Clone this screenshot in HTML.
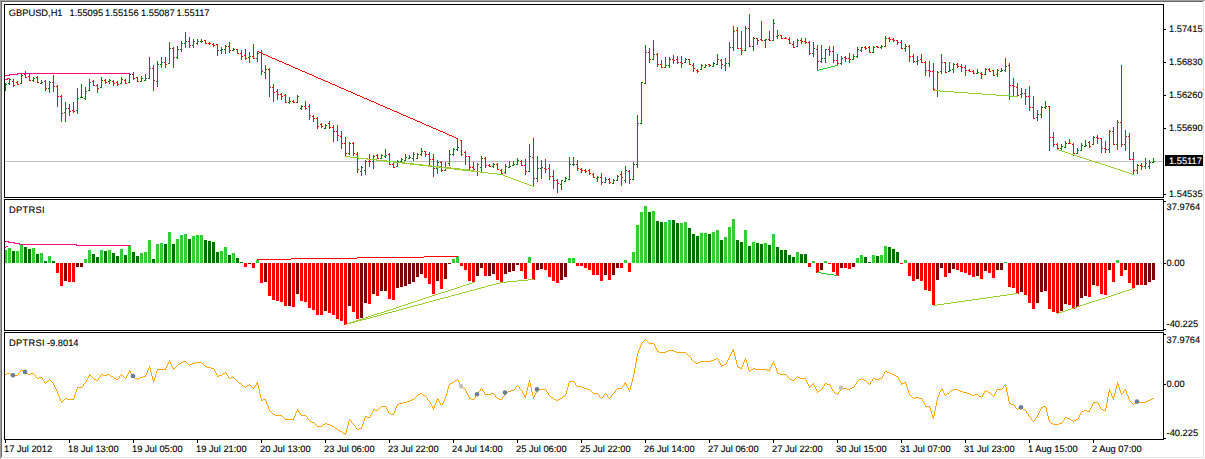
<!DOCTYPE html><html><head><meta charset="utf-8"><style>html,body{margin:0;padding:0;background:#fff;width:1205px;height:459px;overflow:hidden}svg{display:block}text{text-rendering:geometricPrecision;stroke:currentColor;stroke-width:0.12px}</style></head><body><svg width="1205" height="459" viewBox="0 0 1205 459" shape-rendering="crispEdges" font-family="Liberation Sans, sans-serif" font-size="9.3"><rect x="0" y="0" width="1205" height="1" fill="#a0a0a0"/><rect x="0" y="0" width="1" height="459" fill="#a0a0a0"/><rect x="1" y="1" width="1203" height="1" fill="#696969"/><rect x="1" y="1" width="1" height="457" fill="#696969"/><rect x="1" y="457" width="1203" height="1" fill="#e3e3e3"/><rect x="1203" y="1" width="1" height="457" fill="#e3e3e3"/><rect x="4" y="4" width="1160" height="1" fill="#000"/><rect x="4" y="197" width="1160" height="1" fill="#000"/><rect x="4" y="4" width="1" height="194" fill="#000"/><rect x="1163" y="4" width="1" height="194" fill="#000"/><rect x="4" y="199" width="1160" height="1" fill="#000"/><rect x="4" y="330" width="1160" height="1" fill="#000"/><rect x="4" y="199" width="1" height="132" fill="#000"/><rect x="1163" y="199" width="1" height="132" fill="#000"/><rect x="4" y="332" width="1160" height="1" fill="#000"/><rect x="4" y="439" width="1160" height="1" fill="#000"/><rect x="4" y="332" width="1" height="108" fill="#000"/><rect x="1163" y="332" width="1" height="108" fill="#000"/><rect x="5" y="161" width="1158" height="1" fill="#c0c0c0"/><rect x="5" y="83" width="1" height="8" fill="#008000"/><rect x="6" y="84" width="1" height="1" fill="#008000"/><rect x="9" y="78" width="1" height="7" fill="#008000"/><rect x="8" y="83" width="1" height="1" fill="#008000"/><rect x="10" y="79" width="1" height="1" fill="#008000"/><rect x="13" y="79" width="1" height="8" fill="#ff0000"/><rect x="12" y="81" width="1" height="1" fill="#ff0000"/><rect x="14" y="85" width="1" height="1" fill="#ff0000"/><rect x="17" y="81" width="1" height="4" fill="#ff0000"/><rect x="16" y="82" width="1" height="1" fill="#ff0000"/><rect x="18" y="84" width="1" height="1" fill="#ff0000"/><rect x="21" y="74" width="1" height="10" fill="#008000"/><rect x="20" y="83" width="1" height="1" fill="#008000"/><rect x="22" y="75" width="1" height="1" fill="#008000"/><rect x="25" y="71" width="1" height="7" fill="#ff0000"/><rect x="24" y="74" width="1" height="1" fill="#ff0000"/><rect x="26" y="77" width="1" height="1" fill="#ff0000"/><rect x="29" y="74" width="1" height="7" fill="#ff0000"/><rect x="28" y="76" width="1" height="1" fill="#ff0000"/><rect x="30" y="80" width="1" height="1" fill="#ff0000"/><rect x="33" y="77" width="1" height="5" fill="#008000"/><rect x="32" y="80" width="1" height="1" fill="#008000"/><rect x="34" y="78" width="1" height="1" fill="#008000"/><rect x="37" y="76" width="1" height="7" fill="#ff0000"/><rect x="36" y="77" width="1" height="1" fill="#ff0000"/><rect x="38" y="82" width="1" height="1" fill="#ff0000"/><rect x="41" y="80" width="1" height="4" fill="#008000"/><rect x="40" y="83" width="1" height="1" fill="#008000"/><rect x="42" y="82" width="1" height="1" fill="#008000"/><rect x="45" y="80" width="1" height="11" fill="#ff0000"/><rect x="44" y="81" width="1" height="1" fill="#ff0000"/><rect x="46" y="88" width="1" height="1" fill="#ff0000"/><rect x="49" y="81" width="1" height="12" fill="#008000"/><rect x="48" y="88" width="1" height="1" fill="#008000"/><rect x="50" y="82" width="1" height="1" fill="#008000"/><rect x="53" y="75" width="1" height="17" fill="#ff0000"/><rect x="52" y="82" width="1" height="1" fill="#ff0000"/><rect x="54" y="86" width="1" height="1" fill="#ff0000"/><rect x="57" y="85" width="1" height="22" fill="#ff0000"/><rect x="56" y="86" width="1" height="1" fill="#ff0000"/><rect x="58" y="96" width="1" height="1" fill="#ff0000"/><rect x="61" y="95" width="1" height="27" fill="#ff0000"/><rect x="60" y="96" width="1" height="1" fill="#ff0000"/><rect x="62" y="113" width="1" height="1" fill="#ff0000"/><rect x="65" y="102" width="1" height="20" fill="#008000"/><rect x="64" y="112" width="1" height="1" fill="#008000"/><rect x="66" y="108" width="1" height="1" fill="#008000"/><rect x="69" y="104" width="1" height="12" fill="#ff0000"/><rect x="68" y="108" width="1" height="1" fill="#ff0000"/><rect x="70" y="111" width="1" height="1" fill="#ff0000"/><rect x="73" y="102" width="1" height="11" fill="#ff0000"/><rect x="72" y="110" width="1" height="1" fill="#ff0000"/><rect x="74" y="111" width="1" height="1" fill="#ff0000"/><rect x="77" y="88" width="1" height="26" fill="#008000"/><rect x="76" y="110" width="1" height="1" fill="#008000"/><rect x="78" y="98" width="1" height="1" fill="#008000"/><rect x="81" y="84" width="1" height="14" fill="#008000"/><rect x="80" y="97" width="1" height="1" fill="#008000"/><rect x="82" y="97" width="1" height="1" fill="#008000"/><rect x="85" y="87" width="1" height="13" fill="#008000"/><rect x="84" y="98" width="1" height="1" fill="#008000"/><rect x="86" y="91" width="1" height="1" fill="#008000"/><rect x="89" y="79" width="1" height="12" fill="#008000"/><rect x="88" y="90" width="1" height="1" fill="#008000"/><rect x="90" y="82" width="1" height="1" fill="#008000"/><rect x="93" y="80" width="1" height="6" fill="#ff0000"/><rect x="92" y="81" width="1" height="1" fill="#ff0000"/><rect x="94" y="85" width="1" height="1" fill="#ff0000"/><rect x="97" y="84" width="1" height="9" fill="#ff0000"/><rect x="96" y="85" width="1" height="1" fill="#ff0000"/><rect x="98" y="88" width="1" height="1" fill="#ff0000"/><rect x="101" y="77" width="1" height="11" fill="#008000"/><rect x="100" y="87" width="1" height="1" fill="#008000"/><rect x="102" y="80" width="1" height="1" fill="#008000"/><rect x="105" y="79" width="1" height="5" fill="#ff0000"/><rect x="104" y="80" width="1" height="1" fill="#ff0000"/><rect x="106" y="82" width="1" height="1" fill="#ff0000"/><rect x="109" y="79" width="1" height="5" fill="#008000"/><rect x="108" y="81" width="1" height="1" fill="#008000"/><rect x="110" y="80" width="1" height="1" fill="#008000"/><rect x="113" y="80" width="1" height="6" fill="#ff0000"/><rect x="112" y="81" width="1" height="1" fill="#ff0000"/><rect x="114" y="83" width="1" height="1" fill="#ff0000"/><rect x="117" y="81" width="1" height="5" fill="#ff0000"/><rect x="116" y="82" width="1" height="1" fill="#ff0000"/><rect x="118" y="84" width="1" height="1" fill="#ff0000"/><rect x="121" y="77" width="1" height="7" fill="#008000"/><rect x="120" y="83" width="1" height="1" fill="#008000"/><rect x="122" y="79" width="1" height="1" fill="#008000"/><rect x="125" y="79" width="1" height="5" fill="#ff0000"/><rect x="124" y="80" width="1" height="1" fill="#ff0000"/><rect x="126" y="83" width="1" height="1" fill="#ff0000"/><rect x="129" y="73" width="1" height="10" fill="#008000"/><rect x="128" y="82" width="1" height="1" fill="#008000"/><rect x="130" y="74" width="1" height="1" fill="#008000"/><rect x="133" y="72" width="1" height="8" fill="#ff0000"/><rect x="132" y="74" width="1" height="1" fill="#ff0000"/><rect x="134" y="78" width="1" height="1" fill="#ff0000"/><rect x="137" y="77" width="1" height="5" fill="#ff0000"/><rect x="136" y="77" width="1" height="1" fill="#ff0000"/><rect x="138" y="81" width="1" height="1" fill="#ff0000"/><rect x="141" y="76" width="1" height="6" fill="#008000"/><rect x="140" y="81" width="1" height="1" fill="#008000"/><rect x="142" y="78" width="1" height="1" fill="#008000"/><rect x="145" y="74" width="1" height="7" fill="#008000"/><rect x="144" y="80" width="1" height="1" fill="#008000"/><rect x="146" y="78" width="1" height="1" fill="#008000"/><rect x="149" y="57" width="1" height="22" fill="#008000"/><rect x="148" y="78" width="1" height="1" fill="#008000"/><rect x="150" y="68" width="1" height="1" fill="#008000"/><rect x="153" y="65" width="1" height="26" fill="#ff0000"/><rect x="152" y="68" width="1" height="1" fill="#ff0000"/><rect x="154" y="80" width="1" height="1" fill="#ff0000"/><rect x="157" y="61" width="1" height="26" fill="#008000"/><rect x="156" y="81" width="1" height="1" fill="#008000"/><rect x="158" y="64" width="1" height="1" fill="#008000"/><rect x="161" y="57" width="1" height="11" fill="#008000"/><rect x="160" y="64" width="1" height="1" fill="#008000"/><rect x="162" y="62" width="1" height="1" fill="#008000"/><rect x="165" y="57" width="1" height="11" fill="#ff0000"/><rect x="164" y="62" width="1" height="1" fill="#ff0000"/><rect x="166" y="64" width="1" height="1" fill="#ff0000"/><rect x="169" y="42" width="1" height="22" fill="#008000"/><rect x="168" y="63" width="1" height="1" fill="#008000"/><rect x="170" y="48" width="1" height="1" fill="#008000"/><rect x="173" y="47" width="1" height="21" fill="#ff0000"/><rect x="172" y="48" width="1" height="1" fill="#ff0000"/><rect x="174" y="57" width="1" height="1" fill="#ff0000"/><rect x="177" y="46" width="1" height="13" fill="#008000"/><rect x="176" y="57" width="1" height="1" fill="#008000"/><rect x="178" y="49" width="1" height="1" fill="#008000"/><rect x="181" y="41" width="1" height="11" fill="#008000"/><rect x="180" y="49" width="1" height="1" fill="#008000"/><rect x="182" y="43" width="1" height="1" fill="#008000"/><rect x="185" y="32" width="1" height="16" fill="#008000"/><rect x="184" y="43" width="1" height="1" fill="#008000"/><rect x="186" y="41" width="1" height="1" fill="#008000"/><rect x="189" y="37" width="1" height="11" fill="#ff0000"/><rect x="188" y="41" width="1" height="1" fill="#ff0000"/><rect x="190" y="45" width="1" height="1" fill="#ff0000"/><rect x="193" y="39" width="1" height="9" fill="#008000"/><rect x="192" y="45" width="1" height="1" fill="#008000"/><rect x="194" y="41" width="1" height="1" fill="#008000"/><rect x="197" y="39" width="1" height="6" fill="#008000"/><rect x="196" y="43" width="1" height="1" fill="#008000"/><rect x="198" y="41" width="1" height="1" fill="#008000"/><rect x="201" y="39" width="1" height="4" fill="#008000"/><rect x="200" y="41" width="1" height="1" fill="#008000"/><rect x="202" y="41" width="1" height="1" fill="#008000"/><rect x="205" y="40" width="1" height="4" fill="#ff0000"/><rect x="204" y="40" width="1" height="1" fill="#ff0000"/><rect x="206" y="43" width="1" height="1" fill="#ff0000"/><rect x="209" y="42" width="1" height="3" fill="#ff0000"/><rect x="208" y="43" width="1" height="1" fill="#ff0000"/><rect x="210" y="43" width="1" height="1" fill="#ff0000"/><rect x="213" y="43" width="1" height="4" fill="#ff0000"/><rect x="212" y="44" width="1" height="1" fill="#ff0000"/><rect x="214" y="45" width="1" height="1" fill="#ff0000"/><rect x="217" y="44" width="1" height="12" fill="#ff0000"/><rect x="216" y="44" width="1" height="1" fill="#ff0000"/><rect x="218" y="50" width="1" height="1" fill="#ff0000"/><rect x="221" y="47" width="1" height="7" fill="#008000"/><rect x="220" y="50" width="1" height="1" fill="#008000"/><rect x="222" y="49" width="1" height="1" fill="#008000"/><rect x="225" y="45" width="1" height="9" fill="#008000"/><rect x="224" y="49" width="1" height="1" fill="#008000"/><rect x="226" y="46" width="1" height="1" fill="#008000"/><rect x="229" y="42" width="1" height="11" fill="#ff0000"/><rect x="228" y="46" width="1" height="1" fill="#ff0000"/><rect x="230" y="50" width="1" height="1" fill="#ff0000"/><rect x="233" y="48" width="1" height="3" fill="#008000"/><rect x="232" y="50" width="1" height="1" fill="#008000"/><rect x="234" y="49" width="1" height="1" fill="#008000"/><rect x="237" y="49" width="1" height="5" fill="#ff0000"/><rect x="236" y="49" width="1" height="1" fill="#ff0000"/><rect x="238" y="53" width="1" height="1" fill="#ff0000"/><rect x="241" y="50" width="1" height="10" fill="#ff0000"/><rect x="240" y="53" width="1" height="1" fill="#ff0000"/><rect x="242" y="56" width="1" height="1" fill="#ff0000"/><rect x="245" y="49" width="1" height="11" fill="#ff0000"/><rect x="244" y="55" width="1" height="1" fill="#ff0000"/><rect x="246" y="58" width="1" height="1" fill="#ff0000"/><rect x="249" y="52" width="1" height="11" fill="#008000"/><rect x="248" y="57" width="1" height="1" fill="#008000"/><rect x="250" y="56" width="1" height="1" fill="#008000"/><rect x="253" y="44" width="1" height="15" fill="#ff0000"/><rect x="252" y="56" width="1" height="1" fill="#ff0000"/><rect x="254" y="58" width="1" height="1" fill="#ff0000"/><rect x="257" y="51" width="1" height="11" fill="#008000"/><rect x="256" y="58" width="1" height="1" fill="#008000"/><rect x="258" y="53" width="1" height="1" fill="#008000"/><rect x="261" y="50" width="1" height="25" fill="#ff0000"/><rect x="260" y="52" width="1" height="1" fill="#ff0000"/><rect x="262" y="71" width="1" height="1" fill="#ff0000"/><rect x="265" y="65" width="1" height="14" fill="#008000"/><rect x="264" y="72" width="1" height="1" fill="#008000"/><rect x="266" y="69" width="1" height="1" fill="#008000"/><rect x="269" y="68" width="1" height="29" fill="#ff0000"/><rect x="268" y="69" width="1" height="1" fill="#ff0000"/><rect x="270" y="87" width="1" height="1" fill="#ff0000"/><rect x="273" y="84" width="1" height="18" fill="#ff0000"/><rect x="272" y="87" width="1" height="1" fill="#ff0000"/><rect x="274" y="92" width="1" height="1" fill="#ff0000"/><rect x="277" y="89" width="1" height="11" fill="#ff0000"/><rect x="276" y="91" width="1" height="1" fill="#ff0000"/><rect x="278" y="94" width="1" height="1" fill="#ff0000"/><rect x="281" y="93" width="1" height="7" fill="#ff0000"/><rect x="280" y="94" width="1" height="1" fill="#ff0000"/><rect x="282" y="96" width="1" height="1" fill="#ff0000"/><rect x="285" y="94" width="1" height="9" fill="#ff0000"/><rect x="284" y="95" width="1" height="1" fill="#ff0000"/><rect x="286" y="102" width="1" height="1" fill="#ff0000"/><rect x="289" y="97" width="1" height="7" fill="#008000"/><rect x="288" y="102" width="1" height="1" fill="#008000"/><rect x="290" y="101" width="1" height="1" fill="#008000"/><rect x="293" y="100" width="1" height="3" fill="#ff0000"/><rect x="292" y="101" width="1" height="1" fill="#ff0000"/><rect x="294" y="102" width="1" height="1" fill="#ff0000"/><rect x="297" y="95" width="1" height="8" fill="#008000"/><rect x="296" y="102" width="1" height="1" fill="#008000"/><rect x="298" y="96" width="1" height="1" fill="#008000"/><rect x="301" y="105" width="1" height="5" fill="#008000"/><rect x="300" y="108" width="1" height="1" fill="#008000"/><rect x="302" y="106" width="1" height="1" fill="#008000"/><rect x="305" y="101" width="1" height="9" fill="#ff0000"/><rect x="304" y="106" width="1" height="1" fill="#ff0000"/><rect x="306" y="108" width="1" height="1" fill="#ff0000"/><rect x="309" y="104" width="1" height="16" fill="#ff0000"/><rect x="308" y="106" width="1" height="1" fill="#ff0000"/><rect x="310" y="115" width="1" height="1" fill="#ff0000"/><rect x="313" y="115" width="1" height="7" fill="#ff0000"/><rect x="312" y="116" width="1" height="1" fill="#ff0000"/><rect x="314" y="118" width="1" height="1" fill="#ff0000"/><rect x="317" y="117" width="1" height="12" fill="#ff0000"/><rect x="316" y="118" width="1" height="1" fill="#ff0000"/><rect x="318" y="126" width="1" height="1" fill="#ff0000"/><rect x="321" y="123" width="1" height="5" fill="#ff0000"/><rect x="320" y="124" width="1" height="1" fill="#ff0000"/><rect x="322" y="126" width="1" height="1" fill="#ff0000"/><rect x="325" y="124" width="1" height="5" fill="#008000"/><rect x="324" y="128" width="1" height="1" fill="#008000"/><rect x="326" y="125" width="1" height="1" fill="#008000"/><rect x="329" y="121" width="1" height="8" fill="#ff0000"/><rect x="328" y="123" width="1" height="1" fill="#ff0000"/><rect x="330" y="127" width="1" height="1" fill="#ff0000"/><rect x="333" y="125" width="1" height="17" fill="#ff0000"/><rect x="332" y="127" width="1" height="1" fill="#ff0000"/><rect x="334" y="131" width="1" height="1" fill="#ff0000"/><rect x="337" y="125" width="1" height="16" fill="#ff0000"/><rect x="336" y="131" width="1" height="1" fill="#ff0000"/><rect x="338" y="135" width="1" height="1" fill="#ff0000"/><rect x="341" y="131" width="1" height="18" fill="#ff0000"/><rect x="340" y="136" width="1" height="1" fill="#ff0000"/><rect x="342" y="143" width="1" height="1" fill="#ff0000"/><rect x="345" y="137" width="1" height="19" fill="#ff0000"/><rect x="344" y="143" width="1" height="1" fill="#ff0000"/><rect x="346" y="153" width="1" height="1" fill="#ff0000"/><rect x="349" y="142" width="1" height="13" fill="#008000"/><rect x="348" y="153" width="1" height="1" fill="#008000"/><rect x="350" y="143" width="1" height="1" fill="#008000"/><rect x="353" y="142" width="1" height="14" fill="#ff0000"/><rect x="352" y="143" width="1" height="1" fill="#ff0000"/><rect x="354" y="153" width="1" height="1" fill="#ff0000"/><rect x="357" y="152" width="1" height="21" fill="#ff0000"/><rect x="356" y="154" width="1" height="1" fill="#ff0000"/><rect x="358" y="169" width="1" height="1" fill="#ff0000"/><rect x="361" y="166" width="1" height="10" fill="#008000"/><rect x="360" y="171" width="1" height="1" fill="#008000"/><rect x="362" y="167" width="1" height="1" fill="#008000"/><rect x="365" y="160" width="1" height="15" fill="#008000"/><rect x="364" y="170" width="1" height="1" fill="#008000"/><rect x="366" y="161" width="1" height="1" fill="#008000"/><rect x="369" y="154" width="1" height="13" fill="#ff0000"/><rect x="368" y="161" width="1" height="1" fill="#ff0000"/><rect x="370" y="161" width="1" height="1" fill="#ff0000"/><rect x="373" y="155" width="1" height="14" fill="#008000"/><rect x="372" y="161" width="1" height="1" fill="#008000"/><rect x="374" y="156" width="1" height="1" fill="#008000"/><rect x="377" y="154" width="1" height="5" fill="#ff0000"/><rect x="376" y="155" width="1" height="1" fill="#ff0000"/><rect x="378" y="158" width="1" height="1" fill="#ff0000"/><rect x="381" y="154" width="1" height="5" fill="#008000"/><rect x="380" y="158" width="1" height="1" fill="#008000"/><rect x="382" y="155" width="1" height="1" fill="#008000"/><rect x="385" y="149" width="1" height="9" fill="#008000"/><rect x="384" y="156" width="1" height="1" fill="#008000"/><rect x="386" y="155" width="1" height="1" fill="#008000"/><rect x="389" y="153" width="1" height="12" fill="#ff0000"/><rect x="388" y="154" width="1" height="1" fill="#ff0000"/><rect x="390" y="164" width="1" height="1" fill="#ff0000"/><rect x="393" y="163" width="1" height="5" fill="#ff0000"/><rect x="392" y="164" width="1" height="1" fill="#ff0000"/><rect x="394" y="167" width="1" height="1" fill="#ff0000"/><rect x="397" y="160" width="1" height="7" fill="#008000"/><rect x="396" y="166" width="1" height="1" fill="#008000"/><rect x="398" y="161" width="1" height="1" fill="#008000"/><rect x="401" y="158" width="1" height="5" fill="#008000"/><rect x="400" y="161" width="1" height="1" fill="#008000"/><rect x="402" y="159" width="1" height="1" fill="#008000"/><rect x="405" y="154" width="1" height="7" fill="#008000"/><rect x="404" y="160" width="1" height="1" fill="#008000"/><rect x="406" y="157" width="1" height="1" fill="#008000"/><rect x="409" y="155" width="1" height="4" fill="#008000"/><rect x="408" y="158" width="1" height="1" fill="#008000"/><rect x="410" y="157" width="1" height="1" fill="#008000"/><rect x="413" y="152" width="1" height="9" fill="#008000"/><rect x="412" y="158" width="1" height="1" fill="#008000"/><rect x="414" y="154" width="1" height="1" fill="#008000"/><rect x="417" y="153" width="1" height="6" fill="#008000"/><rect x="416" y="158" width="1" height="1" fill="#008000"/><rect x="418" y="154" width="1" height="1" fill="#008000"/><rect x="421" y="148" width="1" height="8" fill="#008000"/><rect x="420" y="154" width="1" height="1" fill="#008000"/><rect x="422" y="151" width="1" height="1" fill="#008000"/><rect x="425" y="151" width="1" height="6" fill="#ff0000"/><rect x="424" y="151" width="1" height="1" fill="#ff0000"/><rect x="426" y="154" width="1" height="1" fill="#ff0000"/><rect x="429" y="152" width="1" height="13" fill="#ff0000"/><rect x="428" y="154" width="1" height="1" fill="#ff0000"/><rect x="430" y="159" width="1" height="1" fill="#ff0000"/><rect x="433" y="154" width="1" height="23" fill="#ff0000"/><rect x="432" y="159" width="1" height="1" fill="#ff0000"/><rect x="434" y="168" width="1" height="1" fill="#ff0000"/><rect x="437" y="160" width="1" height="14" fill="#008000"/><rect x="436" y="168" width="1" height="1" fill="#008000"/><rect x="438" y="162" width="1" height="1" fill="#008000"/><rect x="441" y="161" width="1" height="11" fill="#ff0000"/><rect x="440" y="162" width="1" height="1" fill="#ff0000"/><rect x="442" y="170" width="1" height="1" fill="#ff0000"/><rect x="445" y="162" width="1" height="9" fill="#008000"/><rect x="444" y="170" width="1" height="1" fill="#008000"/><rect x="446" y="167" width="1" height="1" fill="#008000"/><rect x="449" y="150" width="1" height="16" fill="#008000"/><rect x="448" y="163" width="1" height="1" fill="#008000"/><rect x="450" y="154" width="1" height="1" fill="#008000"/><rect x="453" y="148" width="1" height="8" fill="#008000"/><rect x="452" y="154" width="1" height="1" fill="#008000"/><rect x="454" y="149" width="1" height="1" fill="#008000"/><rect x="457" y="138" width="1" height="13" fill="#008000"/><rect x="456" y="149" width="1" height="1" fill="#008000"/><rect x="458" y="147" width="1" height="1" fill="#008000"/><rect x="461" y="140" width="1" height="16" fill="#ff0000"/><rect x="460" y="140" width="1" height="1" fill="#ff0000"/><rect x="462" y="154" width="1" height="1" fill="#ff0000"/><rect x="465" y="151" width="1" height="14" fill="#ff0000"/><rect x="464" y="152" width="1" height="1" fill="#ff0000"/><rect x="466" y="156" width="1" height="1" fill="#ff0000"/><rect x="469" y="156" width="1" height="14" fill="#ff0000"/><rect x="468" y="156" width="1" height="1" fill="#ff0000"/><rect x="470" y="167" width="1" height="1" fill="#ff0000"/><rect x="473" y="162" width="1" height="8" fill="#ff0000"/><rect x="472" y="167" width="1" height="1" fill="#ff0000"/><rect x="474" y="169" width="1" height="1" fill="#ff0000"/><rect x="477" y="163" width="1" height="13" fill="#008000"/><rect x="476" y="171" width="1" height="1" fill="#008000"/><rect x="478" y="164" width="1" height="1" fill="#008000"/><rect x="481" y="156" width="1" height="16" fill="#008000"/><rect x="480" y="167" width="1" height="1" fill="#008000"/><rect x="482" y="158" width="1" height="1" fill="#008000"/><rect x="485" y="157" width="1" height="11" fill="#ff0000"/><rect x="484" y="158" width="1" height="1" fill="#ff0000"/><rect x="486" y="165" width="1" height="1" fill="#ff0000"/><rect x="489" y="164" width="1" height="3" fill="#ff0000"/><rect x="488" y="165" width="1" height="1" fill="#ff0000"/><rect x="490" y="166" width="1" height="1" fill="#ff0000"/><rect x="493" y="163" width="1" height="5" fill="#008000"/><rect x="492" y="166" width="1" height="1" fill="#008000"/><rect x="494" y="164" width="1" height="1" fill="#008000"/><rect x="497" y="163" width="1" height="7" fill="#ff0000"/><rect x="496" y="164" width="1" height="1" fill="#ff0000"/><rect x="498" y="169" width="1" height="1" fill="#ff0000"/><rect x="501" y="169" width="1" height="5" fill="#ff0000"/><rect x="500" y="170" width="1" height="1" fill="#ff0000"/><rect x="502" y="173" width="1" height="1" fill="#ff0000"/><rect x="505" y="164" width="1" height="10" fill="#008000"/><rect x="504" y="172" width="1" height="1" fill="#008000"/><rect x="506" y="166" width="1" height="1" fill="#008000"/><rect x="509" y="161" width="1" height="7" fill="#008000"/><rect x="508" y="167" width="1" height="1" fill="#008000"/><rect x="510" y="166" width="1" height="1" fill="#008000"/><rect x="513" y="161" width="1" height="5" fill="#008000"/><rect x="512" y="165" width="1" height="1" fill="#008000"/><rect x="514" y="164" width="1" height="1" fill="#008000"/><rect x="517" y="158" width="1" height="7" fill="#008000"/><rect x="516" y="164" width="1" height="1" fill="#008000"/><rect x="518" y="160" width="1" height="1" fill="#008000"/><rect x="521" y="160" width="1" height="6" fill="#ff0000"/><rect x="520" y="161" width="1" height="1" fill="#ff0000"/><rect x="522" y="165" width="1" height="1" fill="#ff0000"/><rect x="525" y="159" width="1" height="16" fill="#ff0000"/><rect x="524" y="165" width="1" height="1" fill="#ff0000"/><rect x="526" y="171" width="1" height="1" fill="#ff0000"/><rect x="529" y="144" width="1" height="28" fill="#008000"/><rect x="528" y="171" width="1" height="1" fill="#008000"/><rect x="530" y="156" width="1" height="1" fill="#008000"/><rect x="533" y="138" width="1" height="49" fill="#ff0000"/><rect x="532" y="157" width="1" height="1" fill="#ff0000"/><rect x="534" y="178" width="1" height="1" fill="#ff0000"/><rect x="537" y="156" width="1" height="26" fill="#008000"/><rect x="536" y="178" width="1" height="1" fill="#008000"/><rect x="538" y="168" width="1" height="1" fill="#008000"/><rect x="541" y="160" width="1" height="19" fill="#008000"/><rect x="540" y="168" width="1" height="1" fill="#008000"/><rect x="542" y="167" width="1" height="1" fill="#008000"/><rect x="545" y="159" width="1" height="14" fill="#ff0000"/><rect x="544" y="168" width="1" height="1" fill="#ff0000"/><rect x="546" y="169" width="1" height="1" fill="#ff0000"/><rect x="549" y="164" width="1" height="16" fill="#ff0000"/><rect x="548" y="168" width="1" height="1" fill="#ff0000"/><rect x="550" y="176" width="1" height="1" fill="#ff0000"/><rect x="553" y="170" width="1" height="19" fill="#ff0000"/><rect x="552" y="176" width="1" height="1" fill="#ff0000"/><rect x="554" y="180" width="1" height="1" fill="#ff0000"/><rect x="557" y="179" width="1" height="14" fill="#ff0000"/><rect x="556" y="180" width="1" height="1" fill="#ff0000"/><rect x="558" y="183" width="1" height="1" fill="#ff0000"/><rect x="561" y="180" width="1" height="10" fill="#008000"/><rect x="560" y="184" width="1" height="1" fill="#008000"/><rect x="562" y="180" width="1" height="1" fill="#008000"/><rect x="565" y="177" width="1" height="5" fill="#008000"/><rect x="564" y="181" width="1" height="1" fill="#008000"/><rect x="566" y="178" width="1" height="1" fill="#008000"/><rect x="569" y="157" width="1" height="23" fill="#008000"/><rect x="568" y="179" width="1" height="1" fill="#008000"/><rect x="570" y="164" width="1" height="1" fill="#008000"/><rect x="573" y="157" width="1" height="9" fill="#008000"/><rect x="572" y="164" width="1" height="1" fill="#008000"/><rect x="574" y="164" width="1" height="1" fill="#008000"/><rect x="577" y="160" width="1" height="11" fill="#ff0000"/><rect x="576" y="164" width="1" height="1" fill="#ff0000"/><rect x="578" y="168" width="1" height="1" fill="#ff0000"/><rect x="581" y="168" width="1" height="5" fill="#ff0000"/><rect x="580" y="169" width="1" height="1" fill="#ff0000"/><rect x="582" y="170" width="1" height="1" fill="#ff0000"/><rect x="585" y="169" width="1" height="4" fill="#ff0000"/><rect x="584" y="170" width="1" height="1" fill="#ff0000"/><rect x="586" y="171" width="1" height="1" fill="#ff0000"/><rect x="589" y="169" width="1" height="6" fill="#ff0000"/><rect x="588" y="170" width="1" height="1" fill="#ff0000"/><rect x="590" y="173" width="1" height="1" fill="#ff0000"/><rect x="593" y="173" width="1" height="5" fill="#ff0000"/><rect x="592" y="174" width="1" height="1" fill="#ff0000"/><rect x="594" y="177" width="1" height="1" fill="#ff0000"/><rect x="597" y="176" width="1" height="6" fill="#008000"/><rect x="596" y="178" width="1" height="1" fill="#008000"/><rect x="598" y="177" width="1" height="1" fill="#008000"/><rect x="601" y="173" width="1" height="12" fill="#ff0000"/><rect x="600" y="177" width="1" height="1" fill="#ff0000"/><rect x="602" y="182" width="1" height="1" fill="#ff0000"/><rect x="605" y="177" width="1" height="6" fill="#008000"/><rect x="604" y="182" width="1" height="1" fill="#008000"/><rect x="606" y="179" width="1" height="1" fill="#008000"/><rect x="609" y="178" width="1" height="6" fill="#ff0000"/><rect x="608" y="179" width="1" height="1" fill="#ff0000"/><rect x="610" y="182" width="1" height="1" fill="#ff0000"/><rect x="613" y="179" width="1" height="5" fill="#008000"/><rect x="612" y="183" width="1" height="1" fill="#008000"/><rect x="614" y="180" width="1" height="1" fill="#008000"/><rect x="617" y="175" width="1" height="6" fill="#008000"/><rect x="616" y="180" width="1" height="1" fill="#008000"/><rect x="618" y="176" width="1" height="1" fill="#008000"/><rect x="621" y="171" width="1" height="15" fill="#ff0000"/><rect x="620" y="174" width="1" height="1" fill="#ff0000"/><rect x="622" y="177" width="1" height="1" fill="#ff0000"/><rect x="625" y="166" width="1" height="17" fill="#008000"/><rect x="624" y="180" width="1" height="1" fill="#008000"/><rect x="626" y="170" width="1" height="1" fill="#008000"/><rect x="629" y="170" width="1" height="14" fill="#ff0000"/><rect x="628" y="171" width="1" height="1" fill="#ff0000"/><rect x="630" y="179" width="1" height="1" fill="#ff0000"/><rect x="633" y="162" width="1" height="18" fill="#008000"/><rect x="632" y="179" width="1" height="1" fill="#008000"/><rect x="634" y="164" width="1" height="1" fill="#008000"/><rect x="637" y="115" width="1" height="53" fill="#008000"/><rect x="636" y="164" width="1" height="1" fill="#008000"/><rect x="638" y="123" width="1" height="1" fill="#008000"/><rect x="641" y="82" width="1" height="42" fill="#008000"/><rect x="640" y="123" width="1" height="1" fill="#008000"/><rect x="642" y="82" width="1" height="1" fill="#008000"/><rect x="645" y="45" width="1" height="39" fill="#008000"/><rect x="644" y="83" width="1" height="1" fill="#008000"/><rect x="646" y="52" width="1" height="1" fill="#008000"/><rect x="649" y="48" width="1" height="15" fill="#ff0000"/><rect x="648" y="52" width="1" height="1" fill="#ff0000"/><rect x="650" y="59" width="1" height="1" fill="#ff0000"/><rect x="653" y="40" width="1" height="20" fill="#008000"/><rect x="652" y="59" width="1" height="1" fill="#008000"/><rect x="654" y="54" width="1" height="1" fill="#008000"/><rect x="657" y="53" width="1" height="14" fill="#ff0000"/><rect x="656" y="54" width="1" height="1" fill="#ff0000"/><rect x="658" y="64" width="1" height="1" fill="#ff0000"/><rect x="661" y="60" width="1" height="8" fill="#ff0000"/><rect x="660" y="64" width="1" height="1" fill="#ff0000"/><rect x="662" y="67" width="1" height="1" fill="#ff0000"/><rect x="665" y="57" width="1" height="11" fill="#008000"/><rect x="664" y="67" width="1" height="1" fill="#008000"/><rect x="666" y="65" width="1" height="1" fill="#008000"/><rect x="669" y="57" width="1" height="11" fill="#008000"/><rect x="668" y="65" width="1" height="1" fill="#008000"/><rect x="670" y="59" width="1" height="1" fill="#008000"/><rect x="673" y="55" width="1" height="9" fill="#ff0000"/><rect x="672" y="59" width="1" height="1" fill="#ff0000"/><rect x="674" y="60" width="1" height="1" fill="#ff0000"/><rect x="677" y="56" width="1" height="8" fill="#ff0000"/><rect x="676" y="59" width="1" height="1" fill="#ff0000"/><rect x="678" y="62" width="1" height="1" fill="#ff0000"/><rect x="681" y="56" width="1" height="12" fill="#ff0000"/><rect x="680" y="62" width="1" height="1" fill="#ff0000"/><rect x="682" y="63" width="1" height="1" fill="#ff0000"/><rect x="685" y="58" width="1" height="5" fill="#008000"/><rect x="684" y="62" width="1" height="1" fill="#008000"/><rect x="686" y="59" width="1" height="1" fill="#008000"/><rect x="689" y="59" width="1" height="6" fill="#ff0000"/><rect x="688" y="59" width="1" height="1" fill="#ff0000"/><rect x="690" y="64" width="1" height="1" fill="#ff0000"/><rect x="693" y="63" width="1" height="9" fill="#ff0000"/><rect x="692" y="65" width="1" height="1" fill="#ff0000"/><rect x="694" y="68" width="1" height="1" fill="#ff0000"/><rect x="697" y="69" width="1" height="4" fill="#ff0000"/><rect x="696" y="70" width="1" height="1" fill="#ff0000"/><rect x="698" y="71" width="1" height="1" fill="#ff0000"/><rect x="701" y="64" width="1" height="6" fill="#008000"/><rect x="700" y="69" width="1" height="1" fill="#008000"/><rect x="702" y="65" width="1" height="1" fill="#008000"/><rect x="705" y="64" width="1" height="4" fill="#008000"/><rect x="704" y="67" width="1" height="1" fill="#008000"/><rect x="706" y="65" width="1" height="1" fill="#008000"/><rect x="709" y="64" width="1" height="3" fill="#ff0000"/><rect x="708" y="64" width="1" height="1" fill="#ff0000"/><rect x="710" y="65" width="1" height="1" fill="#ff0000"/><rect x="713" y="62" width="1" height="5" fill="#008000"/><rect x="712" y="66" width="1" height="1" fill="#008000"/><rect x="714" y="63" width="1" height="1" fill="#008000"/><rect x="717" y="54" width="1" height="11" fill="#008000"/><rect x="716" y="64" width="1" height="1" fill="#008000"/><rect x="718" y="59" width="1" height="1" fill="#008000"/><rect x="721" y="59" width="1" height="10" fill="#ff0000"/><rect x="720" y="60" width="1" height="1" fill="#ff0000"/><rect x="722" y="64" width="1" height="1" fill="#ff0000"/><rect x="725" y="58" width="1" height="13" fill="#008000"/><rect x="724" y="65" width="1" height="1" fill="#008000"/><rect x="726" y="63" width="1" height="1" fill="#008000"/><rect x="729" y="42" width="1" height="25" fill="#008000"/><rect x="728" y="63" width="1" height="1" fill="#008000"/><rect x="730" y="47" width="1" height="1" fill="#008000"/><rect x="733" y="26" width="1" height="25" fill="#008000"/><rect x="732" y="47" width="1" height="1" fill="#008000"/><rect x="734" y="31" width="1" height="1" fill="#008000"/><rect x="737" y="27" width="1" height="22" fill="#ff0000"/><rect x="736" y="30" width="1" height="1" fill="#ff0000"/><rect x="738" y="48" width="1" height="1" fill="#ff0000"/><rect x="741" y="31" width="1" height="24" fill="#ff0000"/><rect x="740" y="48" width="1" height="1" fill="#ff0000"/><rect x="742" y="50" width="1" height="1" fill="#ff0000"/><rect x="745" y="26" width="1" height="25" fill="#008000"/><rect x="744" y="50" width="1" height="1" fill="#008000"/><rect x="746" y="28" width="1" height="1" fill="#008000"/><rect x="749" y="14" width="1" height="33" fill="#ff0000"/><rect x="748" y="28" width="1" height="1" fill="#ff0000"/><rect x="750" y="46" width="1" height="1" fill="#ff0000"/><rect x="753" y="37" width="1" height="14" fill="#008000"/><rect x="752" y="46" width="1" height="1" fill="#008000"/><rect x="754" y="38" width="1" height="1" fill="#008000"/><rect x="757" y="38" width="1" height="7" fill="#ff0000"/><rect x="756" y="38" width="1" height="1" fill="#ff0000"/><rect x="758" y="40" width="1" height="1" fill="#ff0000"/><rect x="761" y="21" width="1" height="20" fill="#ff0000"/><rect x="760" y="39" width="1" height="1" fill="#ff0000"/><rect x="762" y="40" width="1" height="1" fill="#ff0000"/><rect x="765" y="39" width="1" height="9" fill="#008000"/><rect x="764" y="40" width="1" height="1" fill="#008000"/><rect x="766" y="39" width="1" height="1" fill="#008000"/><rect x="769" y="31" width="1" height="10" fill="#ff0000"/><rect x="768" y="39" width="1" height="1" fill="#ff0000"/><rect x="770" y="40" width="1" height="1" fill="#ff0000"/><rect x="773" y="19" width="1" height="22" fill="#008000"/><rect x="772" y="40" width="1" height="1" fill="#008000"/><rect x="774" y="23" width="1" height="1" fill="#008000"/><rect x="777" y="30" width="1" height="9" fill="#008000"/><rect x="776" y="36" width="1" height="1" fill="#008000"/><rect x="778" y="35" width="1" height="1" fill="#008000"/><rect x="781" y="35" width="1" height="4" fill="#ff0000"/><rect x="780" y="35" width="1" height="1" fill="#ff0000"/><rect x="782" y="38" width="1" height="1" fill="#ff0000"/><rect x="785" y="37" width="1" height="2" fill="#ff0000"/><rect x="784" y="38" width="1" height="1" fill="#ff0000"/><rect x="786" y="38" width="1" height="1" fill="#ff0000"/><rect x="789" y="37" width="1" height="7" fill="#ff0000"/><rect x="788" y="39" width="1" height="1" fill="#ff0000"/><rect x="790" y="43" width="1" height="1" fill="#ff0000"/><rect x="793" y="41" width="1" height="7" fill="#ff0000"/><rect x="792" y="44" width="1" height="1" fill="#ff0000"/><rect x="794" y="47" width="1" height="1" fill="#ff0000"/><rect x="797" y="39" width="1" height="8" fill="#008000"/><rect x="796" y="46" width="1" height="1" fill="#008000"/><rect x="798" y="40" width="1" height="1" fill="#008000"/><rect x="801" y="38" width="1" height="6" fill="#ff0000"/><rect x="800" y="40" width="1" height="1" fill="#ff0000"/><rect x="802" y="41" width="1" height="1" fill="#ff0000"/><rect x="805" y="38" width="1" height="6" fill="#ff0000"/><rect x="804" y="41" width="1" height="1" fill="#ff0000"/><rect x="806" y="42" width="1" height="1" fill="#ff0000"/><rect x="809" y="41" width="1" height="14" fill="#ff0000"/><rect x="808" y="42" width="1" height="1" fill="#ff0000"/><rect x="810" y="53" width="1" height="1" fill="#ff0000"/><rect x="813" y="42" width="1" height="15" fill="#008000"/><rect x="812" y="53" width="1" height="1" fill="#008000"/><rect x="814" y="48" width="1" height="1" fill="#008000"/><rect x="817" y="45" width="1" height="25" fill="#ff0000"/><rect x="816" y="49" width="1" height="1" fill="#ff0000"/><rect x="818" y="61" width="1" height="1" fill="#ff0000"/><rect x="821" y="45" width="1" height="18" fill="#008000"/><rect x="820" y="61" width="1" height="1" fill="#008000"/><rect x="822" y="58" width="1" height="1" fill="#008000"/><rect x="825" y="49" width="1" height="14" fill="#008000"/><rect x="824" y="58" width="1" height="1" fill="#008000"/><rect x="826" y="49" width="1" height="1" fill="#008000"/><rect x="829" y="46" width="1" height="10" fill="#ff0000"/><rect x="828" y="49" width="1" height="1" fill="#ff0000"/><rect x="830" y="51" width="1" height="1" fill="#ff0000"/><rect x="833" y="46" width="1" height="17" fill="#ff0000"/><rect x="832" y="51" width="1" height="1" fill="#ff0000"/><rect x="834" y="60" width="1" height="1" fill="#ff0000"/><rect x="837" y="54" width="1" height="11" fill="#ff0000"/><rect x="836" y="60" width="1" height="1" fill="#ff0000"/><rect x="838" y="63" width="1" height="1" fill="#ff0000"/><rect x="841" y="56" width="1" height="9" fill="#008000"/><rect x="840" y="63" width="1" height="1" fill="#008000"/><rect x="842" y="58" width="1" height="1" fill="#008000"/><rect x="845" y="56" width="1" height="6" fill="#ff0000"/><rect x="844" y="57" width="1" height="1" fill="#ff0000"/><rect x="846" y="58" width="1" height="1" fill="#ff0000"/><rect x="849" y="53" width="1" height="10" fill="#ff0000"/><rect x="848" y="58" width="1" height="1" fill="#ff0000"/><rect x="850" y="59" width="1" height="1" fill="#ff0000"/><rect x="853" y="54" width="1" height="6" fill="#008000"/><rect x="852" y="59" width="1" height="1" fill="#008000"/><rect x="854" y="56" width="1" height="1" fill="#008000"/><rect x="857" y="47" width="1" height="11" fill="#008000"/><rect x="856" y="56" width="1" height="1" fill="#008000"/><rect x="858" y="49" width="1" height="1" fill="#008000"/><rect x="861" y="47" width="1" height="5" fill="#008000"/><rect x="860" y="50" width="1" height="1" fill="#008000"/><rect x="862" y="47" width="1" height="1" fill="#008000"/><rect x="865" y="46" width="1" height="4" fill="#ff0000"/><rect x="864" y="47" width="1" height="1" fill="#ff0000"/><rect x="866" y="48" width="1" height="1" fill="#ff0000"/><rect x="869" y="46" width="1" height="7" fill="#ff0000"/><rect x="868" y="47" width="1" height="1" fill="#ff0000"/><rect x="870" y="52" width="1" height="1" fill="#ff0000"/><rect x="873" y="46" width="1" height="7" fill="#008000"/><rect x="872" y="52" width="1" height="1" fill="#008000"/><rect x="874" y="47" width="1" height="1" fill="#008000"/><rect x="877" y="46" width="1" height="2" fill="#ff0000"/><rect x="876" y="46" width="1" height="1" fill="#ff0000"/><rect x="878" y="47" width="1" height="1" fill="#ff0000"/><rect x="881" y="45" width="1" height="4" fill="#008000"/><rect x="880" y="47" width="1" height="1" fill="#008000"/><rect x="882" y="46" width="1" height="1" fill="#008000"/><rect x="885" y="36" width="1" height="11" fill="#008000"/><rect x="884" y="46" width="1" height="1" fill="#008000"/><rect x="886" y="38" width="1" height="1" fill="#008000"/><rect x="889" y="37" width="1" height="5" fill="#ff0000"/><rect x="888" y="38" width="1" height="1" fill="#ff0000"/><rect x="890" y="39" width="1" height="1" fill="#ff0000"/><rect x="893" y="38" width="1" height="4" fill="#ff0000"/><rect x="892" y="39" width="1" height="1" fill="#ff0000"/><rect x="894" y="40" width="1" height="1" fill="#ff0000"/><rect x="897" y="40" width="1" height="5" fill="#ff0000"/><rect x="896" y="40" width="1" height="1" fill="#ff0000"/><rect x="898" y="42" width="1" height="1" fill="#ff0000"/><rect x="901" y="40" width="1" height="9" fill="#ff0000"/><rect x="900" y="42" width="1" height="1" fill="#ff0000"/><rect x="902" y="48" width="1" height="1" fill="#ff0000"/><rect x="905" y="44" width="1" height="8" fill="#008000"/><rect x="904" y="48" width="1" height="1" fill="#008000"/><rect x="906" y="46" width="1" height="1" fill="#008000"/><rect x="909" y="45" width="1" height="17" fill="#ff0000"/><rect x="908" y="46" width="1" height="1" fill="#ff0000"/><rect x="910" y="56" width="1" height="1" fill="#ff0000"/><rect x="913" y="54" width="1" height="9" fill="#ff0000"/><rect x="912" y="56" width="1" height="1" fill="#ff0000"/><rect x="914" y="61" width="1" height="1" fill="#ff0000"/><rect x="917" y="56" width="1" height="9" fill="#008000"/><rect x="916" y="61" width="1" height="1" fill="#008000"/><rect x="918" y="60" width="1" height="1" fill="#008000"/><rect x="921" y="54" width="1" height="9" fill="#ff0000"/><rect x="920" y="59" width="1" height="1" fill="#ff0000"/><rect x="922" y="62" width="1" height="1" fill="#ff0000"/><rect x="925" y="61" width="1" height="15" fill="#ff0000"/><rect x="924" y="62" width="1" height="1" fill="#ff0000"/><rect x="926" y="70" width="1" height="1" fill="#ff0000"/><rect x="929" y="61" width="1" height="16" fill="#ff0000"/><rect x="928" y="70" width="1" height="1" fill="#ff0000"/><rect x="930" y="71" width="1" height="1" fill="#ff0000"/><rect x="933" y="63" width="1" height="27" fill="#ff0000"/><rect x="932" y="71" width="1" height="1" fill="#ff0000"/><rect x="934" y="89" width="1" height="1" fill="#ff0000"/><rect x="937" y="71" width="1" height="26" fill="#008000"/><rect x="936" y="90" width="1" height="1" fill="#008000"/><rect x="938" y="72" width="1" height="1" fill="#008000"/><rect x="941" y="54" width="1" height="20" fill="#008000"/><rect x="940" y="71" width="1" height="1" fill="#008000"/><rect x="942" y="62" width="1" height="1" fill="#008000"/><rect x="945" y="62" width="1" height="11" fill="#ff0000"/><rect x="944" y="62" width="1" height="1" fill="#ff0000"/><rect x="946" y="72" width="1" height="1" fill="#ff0000"/><rect x="949" y="62" width="1" height="10" fill="#008000"/><rect x="948" y="71" width="1" height="1" fill="#008000"/><rect x="950" y="70" width="1" height="1" fill="#008000"/><rect x="953" y="63" width="1" height="10" fill="#008000"/><rect x="952" y="69" width="1" height="1" fill="#008000"/><rect x="954" y="64" width="1" height="1" fill="#008000"/><rect x="957" y="63" width="1" height="5" fill="#ff0000"/><rect x="956" y="64" width="1" height="1" fill="#ff0000"/><rect x="958" y="66" width="1" height="1" fill="#ff0000"/><rect x="961" y="64" width="1" height="8" fill="#ff0000"/><rect x="960" y="66" width="1" height="1" fill="#ff0000"/><rect x="962" y="67" width="1" height="1" fill="#ff0000"/><rect x="965" y="65" width="1" height="11" fill="#ff0000"/><rect x="964" y="67" width="1" height="1" fill="#ff0000"/><rect x="966" y="70" width="1" height="1" fill="#ff0000"/><rect x="969" y="69" width="1" height="3" fill="#ff0000"/><rect x="968" y="70" width="1" height="1" fill="#ff0000"/><rect x="970" y="71" width="1" height="1" fill="#ff0000"/><rect x="973" y="70" width="1" height="4" fill="#ff0000"/><rect x="972" y="71" width="1" height="1" fill="#ff0000"/><rect x="974" y="73" width="1" height="1" fill="#ff0000"/><rect x="977" y="69" width="1" height="5" fill="#008000"/><rect x="976" y="73" width="1" height="1" fill="#008000"/><rect x="978" y="72" width="1" height="1" fill="#008000"/><rect x="981" y="72" width="1" height="7" fill="#ff0000"/><rect x="980" y="73" width="1" height="1" fill="#ff0000"/><rect x="982" y="74" width="1" height="1" fill="#ff0000"/><rect x="985" y="68" width="1" height="7" fill="#008000"/><rect x="984" y="74" width="1" height="1" fill="#008000"/><rect x="986" y="69" width="1" height="1" fill="#008000"/><rect x="989" y="68" width="1" height="4" fill="#ff0000"/><rect x="988" y="69" width="1" height="1" fill="#ff0000"/><rect x="990" y="71" width="1" height="1" fill="#ff0000"/><rect x="993" y="70" width="1" height="6" fill="#ff0000"/><rect x="992" y="70" width="1" height="1" fill="#ff0000"/><rect x="994" y="75" width="1" height="1" fill="#ff0000"/><rect x="997" y="69" width="1" height="8" fill="#008000"/><rect x="996" y="74" width="1" height="1" fill="#008000"/><rect x="998" y="70" width="1" height="1" fill="#008000"/><rect x="1001" y="68" width="1" height="4" fill="#008000"/><rect x="1000" y="71" width="1" height="1" fill="#008000"/><rect x="1002" y="70" width="1" height="1" fill="#008000"/><rect x="1005" y="58" width="1" height="14" fill="#008000"/><rect x="1004" y="70" width="1" height="1" fill="#008000"/><rect x="1006" y="66" width="1" height="1" fill="#008000"/><rect x="1009" y="63" width="1" height="37" fill="#ff0000"/><rect x="1008" y="65" width="1" height="1" fill="#ff0000"/><rect x="1010" y="85" width="1" height="1" fill="#ff0000"/><rect x="1013" y="78" width="1" height="18" fill="#ff0000"/><rect x="1012" y="85" width="1" height="1" fill="#ff0000"/><rect x="1014" y="86" width="1" height="1" fill="#ff0000"/><rect x="1017" y="83" width="1" height="13" fill="#ff0000"/><rect x="1016" y="87" width="1" height="1" fill="#ff0000"/><rect x="1018" y="95" width="1" height="1" fill="#ff0000"/><rect x="1021" y="88" width="1" height="10" fill="#008000"/><rect x="1020" y="94" width="1" height="1" fill="#008000"/><rect x="1022" y="93" width="1" height="1" fill="#008000"/><rect x="1025" y="89" width="1" height="16" fill="#ff0000"/><rect x="1024" y="93" width="1" height="1" fill="#ff0000"/><rect x="1026" y="96" width="1" height="1" fill="#ff0000"/><rect x="1029" y="86" width="1" height="25" fill="#ff0000"/><rect x="1028" y="96" width="1" height="1" fill="#ff0000"/><rect x="1030" y="107" width="1" height="1" fill="#ff0000"/><rect x="1033" y="96" width="1" height="23" fill="#ff0000"/><rect x="1032" y="107" width="1" height="1" fill="#ff0000"/><rect x="1034" y="118" width="1" height="1" fill="#ff0000"/><rect x="1037" y="110" width="1" height="11" fill="#008000"/><rect x="1036" y="117" width="1" height="1" fill="#008000"/><rect x="1038" y="114" width="1" height="1" fill="#008000"/><rect x="1041" y="106" width="1" height="12" fill="#008000"/><rect x="1040" y="114" width="1" height="1" fill="#008000"/><rect x="1042" y="107" width="1" height="1" fill="#008000"/><rect x="1045" y="101" width="1" height="8" fill="#008000"/><rect x="1044" y="107" width="1" height="1" fill="#008000"/><rect x="1046" y="106" width="1" height="1" fill="#008000"/><rect x="1049" y="106" width="1" height="45" fill="#ff0000"/><rect x="1048" y="106" width="1" height="1" fill="#ff0000"/><rect x="1050" y="137" width="1" height="1" fill="#ff0000"/><rect x="1053" y="132" width="1" height="15" fill="#ff0000"/><rect x="1052" y="137" width="1" height="1" fill="#ff0000"/><rect x="1054" y="144" width="1" height="1" fill="#ff0000"/><rect x="1057" y="143" width="1" height="6" fill="#ff0000"/><rect x="1056" y="144" width="1" height="1" fill="#ff0000"/><rect x="1058" y="148" width="1" height="1" fill="#ff0000"/><rect x="1061" y="144" width="1" height="6" fill="#008000"/><rect x="1060" y="148" width="1" height="1" fill="#008000"/><rect x="1062" y="146" width="1" height="1" fill="#008000"/><rect x="1065" y="141" width="1" height="7" fill="#008000"/><rect x="1064" y="147" width="1" height="1" fill="#008000"/><rect x="1066" y="143" width="1" height="1" fill="#008000"/><rect x="1069" y="139" width="1" height="5" fill="#ff0000"/><rect x="1068" y="143" width="1" height="1" fill="#ff0000"/><rect x="1070" y="143" width="1" height="1" fill="#ff0000"/><rect x="1073" y="143" width="1" height="13" fill="#ff0000"/><rect x="1072" y="144" width="1" height="1" fill="#ff0000"/><rect x="1074" y="153" width="1" height="1" fill="#ff0000"/><rect x="1077" y="148" width="1" height="6" fill="#008000"/><rect x="1076" y="153" width="1" height="1" fill="#008000"/><rect x="1078" y="150" width="1" height="1" fill="#008000"/><rect x="1081" y="143" width="1" height="8" fill="#008000"/><rect x="1080" y="150" width="1" height="1" fill="#008000"/><rect x="1082" y="145" width="1" height="1" fill="#008000"/><rect x="1085" y="140" width="1" height="7" fill="#008000"/><rect x="1084" y="146" width="1" height="1" fill="#008000"/><rect x="1086" y="145" width="1" height="1" fill="#008000"/><rect x="1089" y="141" width="1" height="7" fill="#ff0000"/><rect x="1088" y="142" width="1" height="1" fill="#ff0000"/><rect x="1090" y="146" width="1" height="1" fill="#ff0000"/><rect x="1093" y="136" width="1" height="9" fill="#008000"/><rect x="1092" y="144" width="1" height="1" fill="#008000"/><rect x="1094" y="137" width="1" height="1" fill="#008000"/><rect x="1097" y="135" width="1" height="9" fill="#ff0000"/><rect x="1096" y="137" width="1" height="1" fill="#ff0000"/><rect x="1098" y="138" width="1" height="1" fill="#ff0000"/><rect x="1101" y="138" width="1" height="15" fill="#ff0000"/><rect x="1100" y="138" width="1" height="1" fill="#ff0000"/><rect x="1102" y="148" width="1" height="1" fill="#ff0000"/><rect x="1105" y="141" width="1" height="12" fill="#ff0000"/><rect x="1104" y="148" width="1" height="1" fill="#ff0000"/><rect x="1106" y="149" width="1" height="1" fill="#ff0000"/><rect x="1109" y="130" width="1" height="23" fill="#008000"/><rect x="1108" y="149" width="1" height="1" fill="#008000"/><rect x="1110" y="131" width="1" height="1" fill="#008000"/><rect x="1113" y="127" width="1" height="18" fill="#ff0000"/><rect x="1112" y="131" width="1" height="1" fill="#ff0000"/><rect x="1114" y="144" width="1" height="1" fill="#ff0000"/><rect x="1117" y="120" width="1" height="30" fill="#008000"/><rect x="1116" y="144" width="1" height="1" fill="#008000"/><rect x="1118" y="122" width="1" height="1" fill="#008000"/><rect x="1121" y="65" width="1" height="82" fill="#ff0000"/><rect x="1120" y="122" width="1" height="1" fill="#ff0000"/><rect x="1122" y="144" width="1" height="1" fill="#ff0000"/><rect x="1125" y="130" width="1" height="21" fill="#008000"/><rect x="1124" y="144" width="1" height="1" fill="#008000"/><rect x="1126" y="136" width="1" height="1" fill="#008000"/><rect x="1129" y="133" width="1" height="27" fill="#ff0000"/><rect x="1128" y="136" width="1" height="1" fill="#ff0000"/><rect x="1130" y="159" width="1" height="1" fill="#ff0000"/><rect x="1133" y="152" width="1" height="22" fill="#ff0000"/><rect x="1132" y="159" width="1" height="1" fill="#ff0000"/><rect x="1134" y="170" width="1" height="1" fill="#ff0000"/><rect x="1137" y="164" width="1" height="10" fill="#008000"/><rect x="1136" y="170" width="1" height="1" fill="#008000"/><rect x="1138" y="165" width="1" height="1" fill="#008000"/><rect x="1141" y="163" width="1" height="7" fill="#ff0000"/><rect x="1140" y="165" width="1" height="1" fill="#ff0000"/><rect x="1142" y="166" width="1" height="1" fill="#ff0000"/><rect x="1145" y="158" width="1" height="11" fill="#008000"/><rect x="1144" y="166" width="1" height="1" fill="#008000"/><rect x="1146" y="163" width="1" height="1" fill="#008000"/><rect x="1149" y="160" width="1" height="9" fill="#008000"/><rect x="1148" y="166" width="1" height="1" fill="#008000"/><rect x="1150" y="162" width="1" height="1" fill="#008000"/><rect x="1153" y="158" width="1" height="5" fill="#008000"/><rect x="1152" y="162" width="1" height="1" fill="#008000"/><rect x="1154" y="161" width="1" height="1" fill="#008000"/><rect x="5" y="75" width="5" height="1" fill="#ff0f8c"/><rect x="9" y="74" width="9" height="1" fill="#ff0f8c"/><rect x="17" y="73" width="113" height="1" fill="#ff0f8c"/><rect x="5" y="79" width="3" height="1" fill="#ff0f8c"/><rect x="7" y="78" width="3" height="1" fill="#ff0f8c"/><rect x="257" y="51" width="2" height="1" fill="#ff0000"/><rect x="259" y="52" width="2" height="1" fill="#ff0000"/><rect x="261" y="53" width="2" height="1" fill="#ff0000"/><rect x="263" y="54" width="3" height="1" fill="#ff0000"/><rect x="266" y="55" width="2" height="1" fill="#ff0000"/><rect x="268" y="56" width="2" height="1" fill="#ff0000"/><rect x="270" y="57" width="2" height="1" fill="#ff0000"/><rect x="272" y="58" width="3" height="1" fill="#ff0000"/><rect x="275" y="59" width="2" height="1" fill="#ff0000"/><rect x="277" y="60" width="2" height="1" fill="#ff0000"/><rect x="279" y="61" width="3" height="1" fill="#ff0000"/><rect x="282" y="62" width="2" height="1" fill="#ff0000"/><rect x="284" y="63" width="2" height="1" fill="#ff0000"/><rect x="286" y="64" width="3" height="1" fill="#ff0000"/><rect x="289" y="65" width="2" height="1" fill="#ff0000"/><rect x="291" y="66" width="2" height="1" fill="#ff0000"/><rect x="293" y="67" width="2" height="1" fill="#ff0000"/><rect x="295" y="68" width="3" height="1" fill="#ff0000"/><rect x="298" y="69" width="2" height="1" fill="#ff0000"/><rect x="300" y="70" width="2" height="1" fill="#ff0000"/><rect x="302" y="71" width="3" height="1" fill="#ff0000"/><rect x="305" y="72" width="2" height="1" fill="#ff0000"/><rect x="307" y="73" width="2" height="1" fill="#ff0000"/><rect x="309" y="74" width="3" height="1" fill="#ff0000"/><rect x="312" y="75" width="2" height="1" fill="#ff0000"/><rect x="314" y="76" width="2" height="1" fill="#ff0000"/><rect x="316" y="77" width="2" height="1" fill="#ff0000"/><rect x="318" y="78" width="3" height="1" fill="#ff0000"/><rect x="321" y="79" width="2" height="1" fill="#ff0000"/><rect x="323" y="80" width="2" height="1" fill="#ff0000"/><rect x="325" y="81" width="3" height="1" fill="#ff0000"/><rect x="328" y="82" width="2" height="1" fill="#ff0000"/><rect x="330" y="83" width="2" height="1" fill="#ff0000"/><rect x="332" y="84" width="3" height="1" fill="#ff0000"/><rect x="335" y="85" width="2" height="1" fill="#ff0000"/><rect x="337" y="86" width="2" height="1" fill="#ff0000"/><rect x="339" y="87" width="2" height="1" fill="#ff0000"/><rect x="341" y="88" width="3" height="1" fill="#ff0000"/><rect x="344" y="89" width="2" height="1" fill="#ff0000"/><rect x="346" y="90" width="2" height="1" fill="#ff0000"/><rect x="348" y="91" width="3" height="1" fill="#ff0000"/><rect x="351" y="92" width="2" height="1" fill="#ff0000"/><rect x="353" y="93" width="2" height="1" fill="#ff0000"/><rect x="355" y="94" width="2" height="1" fill="#ff0000"/><rect x="357" y="95" width="3" height="1" fill="#ff0000"/><rect x="360" y="96" width="2" height="1" fill="#ff0000"/><rect x="362" y="97" width="2" height="1" fill="#ff0000"/><rect x="364" y="98" width="3" height="1" fill="#ff0000"/><rect x="367" y="99" width="2" height="1" fill="#ff0000"/><rect x="369" y="100" width="2" height="1" fill="#ff0000"/><rect x="371" y="101" width="3" height="1" fill="#ff0000"/><rect x="374" y="102" width="2" height="1" fill="#ff0000"/><rect x="376" y="103" width="2" height="1" fill="#ff0000"/><rect x="378" y="104" width="2" height="1" fill="#ff0000"/><rect x="380" y="105" width="3" height="1" fill="#ff0000"/><rect x="383" y="106" width="2" height="1" fill="#ff0000"/><rect x="385" y="107" width="2" height="1" fill="#ff0000"/><rect x="387" y="108" width="3" height="1" fill="#ff0000"/><rect x="390" y="109" width="2" height="1" fill="#ff0000"/><rect x="392" y="110" width="2" height="1" fill="#ff0000"/><rect x="394" y="111" width="3" height="1" fill="#ff0000"/><rect x="397" y="112" width="2" height="1" fill="#ff0000"/><rect x="399" y="113" width="2" height="1" fill="#ff0000"/><rect x="401" y="114" width="2" height="1" fill="#ff0000"/><rect x="403" y="115" width="3" height="1" fill="#ff0000"/><rect x="406" y="116" width="2" height="1" fill="#ff0000"/><rect x="408" y="117" width="2" height="1" fill="#ff0000"/><rect x="410" y="118" width="3" height="1" fill="#ff0000"/><rect x="413" y="119" width="2" height="1" fill="#ff0000"/><rect x="415" y="120" width="2" height="1" fill="#ff0000"/><rect x="417" y="121" width="3" height="1" fill="#ff0000"/><rect x="420" y="122" width="2" height="1" fill="#ff0000"/><rect x="422" y="123" width="2" height="1" fill="#ff0000"/><rect x="424" y="124" width="2" height="1" fill="#ff0000"/><rect x="426" y="125" width="3" height="1" fill="#ff0000"/><rect x="429" y="126" width="2" height="1" fill="#ff0000"/><rect x="431" y="127" width="2" height="1" fill="#ff0000"/><rect x="433" y="128" width="3" height="1" fill="#ff0000"/><rect x="436" y="129" width="2" height="1" fill="#ff0000"/><rect x="438" y="130" width="2" height="1" fill="#ff0000"/><rect x="440" y="131" width="3" height="1" fill="#ff0000"/><rect x="443" y="132" width="2" height="1" fill="#ff0000"/><rect x="445" y="133" width="2" height="1" fill="#ff0000"/><rect x="447" y="134" width="2" height="1" fill="#ff0000"/><rect x="449" y="135" width="3" height="1" fill="#ff0000"/><rect x="452" y="136" width="2" height="1" fill="#ff0000"/><rect x="454" y="137" width="2" height="1" fill="#ff0000"/><rect x="456" y="138" width="2" height="1" fill="#ff0000"/><rect x="345" y="156" width="5" height="1" fill="#9acd32"/><rect x="350" y="157" width="8" height="1" fill="#9acd32"/><rect x="358" y="158" width="9" height="1" fill="#9acd32"/><rect x="367" y="159" width="9" height="1" fill="#9acd32"/><rect x="376" y="160" width="8" height="1" fill="#9acd32"/><rect x="384" y="161" width="9" height="1" fill="#9acd32"/><rect x="393" y="162" width="9" height="1" fill="#9acd32"/><rect x="402" y="163" width="8" height="1" fill="#9acd32"/><rect x="410" y="164" width="9" height="1" fill="#9acd32"/><rect x="419" y="165" width="9" height="1" fill="#9acd32"/><rect x="428" y="166" width="8" height="1" fill="#9acd32"/><rect x="436" y="167" width="9" height="1" fill="#9acd32"/><rect x="445" y="168" width="9" height="1" fill="#9acd32"/><rect x="454" y="169" width="8" height="1" fill="#9acd32"/><rect x="462" y="170" width="9" height="1" fill="#9acd32"/><rect x="471" y="171" width="9" height="1" fill="#9acd32"/><rect x="480" y="172" width="8" height="1" fill="#9acd32"/><rect x="488" y="173" width="9" height="1" fill="#9acd32"/><rect x="497" y="174" width="5" height="1" fill="#9acd32"/><rect x="345" y="156" width="5" height="1" fill="#9acd32"/><rect x="350" y="157" width="9" height="1" fill="#9acd32"/><rect x="359" y="158" width="9" height="1" fill="#9acd32"/><rect x="368" y="159" width="9" height="1" fill="#9acd32"/><rect x="377" y="160" width="10" height="1" fill="#9acd32"/><rect x="387" y="161" width="9" height="1" fill="#9acd32"/><rect x="396" y="162" width="9" height="1" fill="#9acd32"/><rect x="405" y="163" width="9" height="1" fill="#9acd32"/><rect x="414" y="164" width="9" height="1" fill="#9acd32"/><rect x="423" y="165" width="9" height="1" fill="#9acd32"/><rect x="432" y="166" width="9" height="1" fill="#9acd32"/><rect x="441" y="167" width="10" height="1" fill="#9acd32"/><rect x="451" y="168" width="9" height="1" fill="#9acd32"/><rect x="460" y="169" width="9" height="1" fill="#9acd32"/><rect x="469" y="170" width="5" height="1" fill="#9acd32"/><rect x="501" y="174" width="2" height="1" fill="#9acd32"/><rect x="503" y="175" width="2" height="1" fill="#9acd32"/><rect x="505" y="176" width="3" height="1" fill="#9acd32"/><rect x="508" y="177" width="3" height="1" fill="#9acd32"/><rect x="511" y="178" width="2" height="1" fill="#9acd32"/><rect x="513" y="179" width="3" height="1" fill="#9acd32"/><rect x="516" y="180" width="3" height="1" fill="#9acd32"/><rect x="519" y="181" width="2" height="1" fill="#9acd32"/><rect x="521" y="182" width="3" height="1" fill="#9acd32"/><rect x="524" y="183" width="3" height="1" fill="#9acd32"/><rect x="527" y="184" width="2" height="1" fill="#9acd32"/><rect x="529" y="185" width="3" height="1" fill="#9acd32"/><rect x="532" y="186" width="2" height="1" fill="#9acd32"/><rect x="835" y="65" width="3" height="1" fill="#32cd32"/><rect x="831" y="66" width="4" height="1" fill="#32cd32"/><rect x="827" y="67" width="4" height="1" fill="#32cd32"/><rect x="823" y="68" width="4" height="1" fill="#32cd32"/><rect x="819" y="69" width="4" height="1" fill="#32cd32"/><rect x="817" y="70" width="2" height="1" fill="#32cd32"/><rect x="933" y="90" width="7" height="1" fill="#9acd32"/><rect x="940" y="91" width="14" height="1" fill="#9acd32"/><rect x="954" y="92" width="14" height="1" fill="#9acd32"/><rect x="968" y="93" width="14" height="1" fill="#9acd32"/><rect x="982" y="94" width="14" height="1" fill="#9acd32"/><rect x="996" y="95" width="14" height="1" fill="#9acd32"/><rect x="1010" y="96" width="8" height="1" fill="#9acd32"/><rect x="1057" y="149" width="2" height="1" fill="#9acd32"/><rect x="1059" y="150" width="3" height="1" fill="#9acd32"/><rect x="1062" y="151" width="3" height="1" fill="#9acd32"/><rect x="1065" y="152" width="3" height="1" fill="#9acd32"/><rect x="1068" y="153" width="3" height="1" fill="#9acd32"/><rect x="1071" y="154" width="3" height="1" fill="#9acd32"/><rect x="1074" y="155" width="3" height="1" fill="#9acd32"/><rect x="1077" y="156" width="3" height="1" fill="#9acd32"/><rect x="1080" y="157" width="3" height="1" fill="#9acd32"/><rect x="1083" y="158" width="3" height="1" fill="#9acd32"/><rect x="1086" y="159" width="3" height="1" fill="#9acd32"/><rect x="1089" y="160" width="3" height="1" fill="#9acd32"/><rect x="1092" y="161" width="3" height="1" fill="#9acd32"/><rect x="1095" y="162" width="4" height="1" fill="#9acd32"/><rect x="1099" y="163" width="3" height="1" fill="#9acd32"/><rect x="1102" y="164" width="3" height="1" fill="#9acd32"/><rect x="1105" y="165" width="3" height="1" fill="#9acd32"/><rect x="1108" y="166" width="3" height="1" fill="#9acd32"/><rect x="1111" y="167" width="3" height="1" fill="#9acd32"/><rect x="1114" y="168" width="3" height="1" fill="#9acd32"/><rect x="1117" y="169" width="3" height="1" fill="#9acd32"/><rect x="1120" y="170" width="3" height="1" fill="#9acd32"/><rect x="1123" y="171" width="3" height="1" fill="#9acd32"/><rect x="1126" y="172" width="3" height="1" fill="#9acd32"/><rect x="1129" y="173" width="3" height="1" fill="#9acd32"/><rect x="1132" y="174" width="2" height="1" fill="#9acd32"/><rect x="5" y="250" width="2" height="13" fill="#32cd32"/><rect x="8" y="248" width="3" height="15" fill="#32cd32"/><rect x="12" y="251" width="3" height="12" fill="#007000"/><rect x="16" y="251" width="3" height="12" fill="#32cd32"/><rect x="20" y="244" width="3" height="19" fill="#32cd32"/><rect x="24" y="247" width="3" height="16" fill="#007000"/><rect x="28" y="249" width="3" height="14" fill="#007000"/><rect x="32" y="248" width="3" height="15" fill="#32cd32"/><rect x="36" y="254" width="3" height="9" fill="#007000"/><rect x="40" y="253" width="3" height="10" fill="#32cd32"/><rect x="44" y="261" width="3" height="2" fill="#007000"/><rect x="48" y="256" width="3" height="7" fill="#32cd32"/><rect x="52" y="261" width="3" height="2" fill="#007000"/><rect x="56" y="263" width="3" height="10" fill="#ff0000"/><rect x="60" y="263" width="3" height="23" fill="#ff0000"/><rect x="64" y="263" width="3" height="18" fill="#800000"/><rect x="68" y="263" width="3" height="19" fill="#ff0000"/><rect x="72" y="263" width="3" height="19" fill="#ff0000"/><rect x="76" y="263" width="3" height="4" fill="#800000"/><rect x="80" y="263" width="3" height="4" fill="#800000"/><rect x="84" y="259" width="3" height="4" fill="#32cd32"/><rect x="88" y="250" width="3" height="13" fill="#32cd32"/><rect x="92" y="254" width="3" height="9" fill="#007000"/><rect x="96" y="257" width="3" height="6" fill="#007000"/><rect x="100" y="250" width="3" height="13" fill="#32cd32"/><rect x="104" y="251" width="3" height="12" fill="#007000"/><rect x="108" y="250" width="3" height="13" fill="#32cd32"/><rect x="112" y="253" width="3" height="10" fill="#007000"/><rect x="116" y="256" width="3" height="7" fill="#007000"/><rect x="120" y="249" width="3" height="14" fill="#32cd32"/><rect x="124" y="255" width="3" height="8" fill="#007000"/><rect x="128" y="245" width="3" height="18" fill="#32cd32"/><rect x="132" y="252" width="3" height="11" fill="#007000"/><rect x="136" y="256" width="3" height="7" fill="#007000"/><rect x="140" y="253" width="3" height="10" fill="#32cd32"/><rect x="144" y="252" width="3" height="11" fill="#32cd32"/><rect x="148" y="240" width="3" height="23" fill="#32cd32"/><rect x="152" y="259" width="3" height="4" fill="#007000"/><rect x="156" y="244" width="3" height="19" fill="#32cd32"/><rect x="160" y="243" width="3" height="20" fill="#32cd32"/><rect x="164" y="244" width="3" height="19" fill="#007000"/><rect x="168" y="232" width="3" height="31" fill="#32cd32"/><rect x="172" y="244" width="3" height="19" fill="#007000"/><rect x="176" y="239" width="3" height="24" fill="#32cd32"/><rect x="180" y="235" width="3" height="28" fill="#32cd32"/><rect x="184" y="234" width="3" height="29" fill="#32cd32"/><rect x="188" y="239" width="3" height="24" fill="#007000"/><rect x="192" y="236" width="3" height="27" fill="#32cd32"/><rect x="196" y="235" width="3" height="28" fill="#32cd32"/><rect x="200" y="235" width="3" height="28" fill="#32cd32"/><rect x="204" y="240" width="3" height="23" fill="#007000"/><rect x="208" y="241" width="3" height="22" fill="#007000"/><rect x="212" y="242" width="3" height="21" fill="#007000"/><rect x="216" y="252" width="3" height="11" fill="#007000"/><rect x="220" y="251" width="3" height="12" fill="#32cd32"/><rect x="224" y="247" width="3" height="16" fill="#32cd32"/><rect x="228" y="255" width="3" height="8" fill="#007000"/><rect x="232" y="253" width="3" height="10" fill="#32cd32"/><rect x="236" y="258" width="3" height="5" fill="#007000"/><rect x="240" y="262" width="3" height="1" fill="#007000"/><rect x="244" y="263" width="3" height="4" fill="#ff0000"/><rect x="248" y="263" width="3" height="1" fill="#800000"/><rect x="252" y="263" width="3" height="5" fill="#ff0000"/><rect x="256" y="260" width="3" height="3" fill="#32cd32"/><rect x="260" y="263" width="3" height="20" fill="#ff0000"/><rect x="264" y="263" width="3" height="19" fill="#800000"/><rect x="268" y="263" width="3" height="33" fill="#ff0000"/><rect x="272" y="263" width="3" height="37" fill="#ff0000"/><rect x="276" y="263" width="3" height="38" fill="#ff0000"/><rect x="280" y="263" width="3" height="39" fill="#ff0000"/><rect x="284" y="263" width="3" height="43" fill="#ff0000"/><rect x="288" y="263" width="3" height="43" fill="#800000"/><rect x="292" y="263" width="3" height="44" fill="#ff0000"/><rect x="296" y="263" width="3" height="31" fill="#800000"/><rect x="300" y="263" width="3" height="38" fill="#ff0000"/><rect x="304" y="263" width="3" height="39" fill="#ff0000"/><rect x="308" y="263" width="3" height="45" fill="#ff0000"/><rect x="312" y="263" width="3" height="47" fill="#ff0000"/><rect x="316" y="263" width="3" height="52" fill="#ff0000"/><rect x="320" y="263" width="3" height="52" fill="#ff0000"/><rect x="324" y="263" width="3" height="48" fill="#800000"/><rect x="328" y="263" width="3" height="50" fill="#ff0000"/><rect x="332" y="263" width="3" height="52" fill="#ff0000"/><rect x="336" y="263" width="3" height="56" fill="#ff0000"/><rect x="340" y="263" width="3" height="58" fill="#ff0000"/><rect x="344" y="263" width="3" height="62" fill="#ff0000"/><rect x="348" y="263" width="3" height="43" fill="#800000"/><rect x="352" y="263" width="3" height="49" fill="#ff0000"/><rect x="356" y="263" width="3" height="56" fill="#ff0000"/><rect x="360" y="263" width="3" height="55" fill="#800000"/><rect x="364" y="263" width="3" height="40" fill="#800000"/><rect x="368" y="263" width="3" height="41" fill="#ff0000"/><rect x="372" y="263" width="3" height="31" fill="#800000"/><rect x="376" y="263" width="3" height="33" fill="#ff0000"/><rect x="380" y="263" width="3" height="28" fill="#800000"/><rect x="384" y="263" width="3" height="28" fill="#800000"/><rect x="388" y="263" width="3" height="36" fill="#ff0000"/><rect x="392" y="263" width="3" height="37" fill="#ff0000"/><rect x="396" y="263" width="3" height="25" fill="#800000"/><rect x="400" y="263" width="3" height="24" fill="#800000"/><rect x="404" y="263" width="3" height="23" fill="#800000"/><rect x="408" y="263" width="3" height="21" fill="#800000"/><rect x="412" y="263" width="3" height="19" fill="#800000"/><rect x="416" y="263" width="3" height="14" fill="#800000"/><rect x="420" y="263" width="3" height="11" fill="#800000"/><rect x="424" y="263" width="3" height="15" fill="#ff0000"/><rect x="428" y="263" width="3" height="21" fill="#ff0000"/><rect x="432" y="263" width="3" height="31" fill="#ff0000"/><rect x="436" y="263" width="3" height="18" fill="#800000"/><rect x="440" y="263" width="3" height="26" fill="#ff0000"/><rect x="444" y="263" width="3" height="16" fill="#800000"/><rect x="448" y="263" width="3" height="1" fill="#800000"/><rect x="452" y="259" width="3" height="4" fill="#32cd32"/><rect x="456" y="256" width="3" height="7" fill="#32cd32"/><rect x="460" y="263" width="3" height="3" fill="#ff0000"/><rect x="464" y="263" width="3" height="7" fill="#ff0000"/><rect x="468" y="263" width="3" height="18" fill="#ff0000"/><rect x="472" y="263" width="3" height="19" fill="#ff0000"/><rect x="476" y="263" width="3" height="13" fill="#800000"/><rect x="480" y="263" width="3" height="5" fill="#800000"/><rect x="484" y="263" width="3" height="13" fill="#ff0000"/><rect x="488" y="263" width="3" height="13" fill="#800000"/><rect x="492" y="263" width="3" height="11" fill="#800000"/><rect x="496" y="263" width="3" height="17" fill="#ff0000"/><rect x="500" y="263" width="3" height="19" fill="#ff0000"/><rect x="504" y="263" width="3" height="11" fill="#800000"/><rect x="508" y="263" width="3" height="9" fill="#800000"/><rect x="512" y="263" width="3" height="8" fill="#800000"/><rect x="516" y="263" width="3" height="2" fill="#800000"/><rect x="520" y="263" width="3" height="8" fill="#ff0000"/><rect x="524" y="263" width="3" height="16" fill="#ff0000"/><rect x="528" y="257" width="3" height="6" fill="#32cd32"/><rect x="532" y="263" width="3" height="17" fill="#ff0000"/><rect x="536" y="263" width="3" height="7" fill="#800000"/><rect x="540" y="263" width="3" height="6" fill="#800000"/><rect x="544" y="263" width="3" height="7" fill="#ff0000"/><rect x="548" y="263" width="3" height="14" fill="#ff0000"/><rect x="552" y="263" width="3" height="18" fill="#ff0000"/><rect x="556" y="263" width="3" height="20" fill="#ff0000"/><rect x="560" y="263" width="3" height="17" fill="#800000"/><rect x="564" y="263" width="3" height="14" fill="#800000"/><rect x="568" y="258" width="3" height="5" fill="#32cd32"/><rect x="572" y="258" width="3" height="5" fill="#32cd32"/><rect x="576" y="263" width="3" height="3" fill="#ff0000"/><rect x="580" y="263" width="3" height="3" fill="#ff0000"/><rect x="584" y="263" width="3" height="5" fill="#ff0000"/><rect x="588" y="263" width="3" height="7" fill="#ff0000"/><rect x="592" y="263" width="3" height="12" fill="#ff0000"/><rect x="596" y="263" width="3" height="12" fill="#ff0000"/><rect x="600" y="263" width="3" height="18" fill="#ff0000"/><rect x="604" y="263" width="3" height="12" fill="#800000"/><rect x="608" y="263" width="3" height="17" fill="#ff0000"/><rect x="612" y="263" width="3" height="12" fill="#800000"/><rect x="616" y="263" width="3" height="5" fill="#800000"/><rect x="620" y="263" width="3" height="5" fill="#ff0000"/><rect x="624" y="260" width="3" height="3" fill="#32cd32"/><rect x="628" y="263" width="3" height="9" fill="#ff0000"/><rect x="632" y="252" width="3" height="11" fill="#32cd32"/><rect x="636" y="225" width="3" height="38" fill="#32cd32"/><rect x="640" y="212" width="3" height="51" fill="#32cd32"/><rect x="644" y="206" width="3" height="57" fill="#32cd32"/><rect x="648" y="212" width="3" height="51" fill="#007000"/><rect x="652" y="211" width="3" height="52" fill="#32cd32"/><rect x="656" y="221" width="3" height="42" fill="#007000"/><rect x="660" y="222" width="3" height="41" fill="#007000"/><rect x="664" y="222" width="3" height="41" fill="#32cd32"/><rect x="668" y="220" width="3" height="43" fill="#32cd32"/><rect x="672" y="220" width="3" height="43" fill="#007000"/><rect x="676" y="223" width="3" height="40" fill="#007000"/><rect x="680" y="223" width="3" height="40" fill="#32cd32"/><rect x="684" y="222" width="3" height="41" fill="#32cd32"/><rect x="688" y="228" width="3" height="35" fill="#007000"/><rect x="692" y="234" width="3" height="29" fill="#007000"/><rect x="696" y="236" width="3" height="27" fill="#007000"/><rect x="700" y="233" width="3" height="30" fill="#32cd32"/><rect x="704" y="233" width="3" height="30" fill="#32cd32"/><rect x="708" y="234" width="3" height="29" fill="#007000"/><rect x="712" y="232" width="3" height="31" fill="#32cd32"/><rect x="716" y="230" width="3" height="33" fill="#32cd32"/><rect x="720" y="240" width="3" height="23" fill="#007000"/><rect x="724" y="237" width="3" height="26" fill="#32cd32"/><rect x="728" y="227" width="3" height="36" fill="#32cd32"/><rect x="732" y="219" width="3" height="44" fill="#32cd32"/><rect x="736" y="240" width="3" height="23" fill="#007000"/><rect x="740" y="242" width="3" height="21" fill="#007000"/><rect x="744" y="230" width="3" height="33" fill="#32cd32"/><rect x="748" y="246" width="3" height="17" fill="#007000"/><rect x="752" y="242" width="3" height="21" fill="#32cd32"/><rect x="756" y="243" width="3" height="20" fill="#007000"/><rect x="760" y="244" width="3" height="19" fill="#007000"/><rect x="764" y="243" width="3" height="20" fill="#32cd32"/><rect x="768" y="245" width="3" height="18" fill="#007000"/><rect x="772" y="234" width="3" height="29" fill="#32cd32"/><rect x="776" y="247" width="3" height="16" fill="#007000"/><rect x="780" y="250" width="3" height="13" fill="#007000"/><rect x="784" y="250" width="3" height="13" fill="#007000"/><rect x="788" y="255" width="3" height="8" fill="#007000"/><rect x="792" y="257" width="3" height="6" fill="#007000"/><rect x="796" y="252" width="3" height="11" fill="#32cd32"/><rect x="800" y="254" width="3" height="9" fill="#007000"/><rect x="804" y="254" width="3" height="9" fill="#007000"/><rect x="808" y="263" width="3" height="4" fill="#ff0000"/><rect x="812" y="261" width="3" height="2" fill="#32cd32"/><rect x="816" y="263" width="3" height="10" fill="#ff0000"/><rect x="820" y="263" width="3" height="7" fill="#800000"/><rect x="824" y="261" width="3" height="2" fill="#32cd32"/><rect x="828" y="263" width="3" height="1" fill="#ff0000"/><rect x="832" y="263" width="3" height="9" fill="#ff0000"/><rect x="836" y="263" width="3" height="13" fill="#ff0000"/><rect x="840" y="263" width="3" height="5" fill="#800000"/><rect x="844" y="263" width="3" height="5" fill="#ff0000"/><rect x="848" y="263" width="3" height="6" fill="#ff0000"/><rect x="852" y="263" width="3" height="4" fill="#800000"/><rect x="856" y="258" width="3" height="5" fill="#32cd32"/><rect x="860" y="255" width="3" height="8" fill="#32cd32"/><rect x="864" y="257" width="3" height="6" fill="#007000"/><rect x="868" y="262" width="3" height="1" fill="#007000"/><rect x="872" y="255" width="3" height="8" fill="#32cd32"/><rect x="876" y="256" width="3" height="7" fill="#007000"/><rect x="880" y="255" width="3" height="8" fill="#32cd32"/><rect x="884" y="246" width="3" height="17" fill="#32cd32"/><rect x="888" y="247" width="3" height="16" fill="#007000"/><rect x="892" y="249" width="3" height="14" fill="#007000"/><rect x="896" y="252" width="3" height="11" fill="#007000"/><rect x="900" y="263" width="3" height="1" fill="#ff0000"/><rect x="904" y="260" width="3" height="3" fill="#32cd32"/><rect x="908" y="263" width="3" height="13" fill="#ff0000"/><rect x="912" y="263" width="3" height="18" fill="#ff0000"/><rect x="916" y="263" width="3" height="16" fill="#800000"/><rect x="920" y="263" width="3" height="18" fill="#ff0000"/><rect x="924" y="263" width="3" height="27" fill="#ff0000"/><rect x="928" y="263" width="3" height="28" fill="#ff0000"/><rect x="932" y="263" width="3" height="42" fill="#ff0000"/><rect x="936" y="263" width="3" height="17" fill="#800000"/><rect x="940" y="263" width="3" height="5" fill="#800000"/><rect x="944" y="263" width="3" height="14" fill="#ff0000"/><rect x="948" y="263" width="3" height="10" fill="#800000"/><rect x="952" y="263" width="3" height="6" fill="#800000"/><rect x="956" y="263" width="3" height="7" fill="#ff0000"/><rect x="960" y="263" width="3" height="9" fill="#ff0000"/><rect x="964" y="263" width="3" height="10" fill="#ff0000"/><rect x="968" y="263" width="3" height="12" fill="#ff0000"/><rect x="972" y="263" width="3" height="14" fill="#ff0000"/><rect x="976" y="263" width="3" height="13" fill="#800000"/><rect x="980" y="263" width="3" height="16" fill="#ff0000"/><rect x="984" y="263" width="3" height="8" fill="#800000"/><rect x="988" y="263" width="3" height="10" fill="#ff0000"/><rect x="992" y="263" width="3" height="15" fill="#ff0000"/><rect x="996" y="263" width="3" height="7" fill="#800000"/><rect x="1000" y="263" width="3" height="7" fill="#800000"/><rect x="1004" y="262" width="3" height="1" fill="#32cd32"/><rect x="1008" y="263" width="3" height="24" fill="#ff0000"/><rect x="1012" y="263" width="3" height="25" fill="#ff0000"/><rect x="1016" y="263" width="3" height="31" fill="#ff0000"/><rect x="1020" y="263" width="3" height="29" fill="#800000"/><rect x="1024" y="263" width="3" height="32" fill="#ff0000"/><rect x="1028" y="263" width="3" height="40" fill="#ff0000"/><rect x="1032" y="263" width="3" height="46" fill="#ff0000"/><rect x="1036" y="263" width="3" height="40" fill="#800000"/><rect x="1040" y="263" width="3" height="29" fill="#800000"/><rect x="1044" y="263" width="3" height="28" fill="#800000"/><rect x="1048" y="263" width="3" height="46" fill="#ff0000"/><rect x="1052" y="263" width="3" height="49" fill="#ff0000"/><rect x="1056" y="263" width="3" height="50" fill="#ff0000"/><rect x="1060" y="263" width="3" height="48" fill="#800000"/><rect x="1064" y="263" width="3" height="41" fill="#800000"/><rect x="1068" y="263" width="3" height="42" fill="#ff0000"/><rect x="1072" y="263" width="3" height="46" fill="#ff0000"/><rect x="1076" y="263" width="3" height="44" fill="#800000"/><rect x="1080" y="263" width="3" height="35" fill="#800000"/><rect x="1084" y="263" width="3" height="33" fill="#800000"/><rect x="1088" y="263" width="3" height="34" fill="#ff0000"/><rect x="1092" y="263" width="3" height="22" fill="#800000"/><rect x="1096" y="263" width="3" height="23" fill="#ff0000"/><rect x="1100" y="263" width="3" height="31" fill="#ff0000"/><rect x="1104" y="263" width="3" height="32" fill="#ff0000"/><rect x="1108" y="263" width="3" height="7" fill="#800000"/><rect x="1112" y="263" width="3" height="19" fill="#ff0000"/><rect x="1116" y="260" width="3" height="3" fill="#32cd32"/><rect x="1120" y="263" width="3" height="13" fill="#ff0000"/><rect x="1124" y="263" width="3" height="7" fill="#800000"/><rect x="1128" y="263" width="3" height="20" fill="#ff0000"/><rect x="1132" y="263" width="3" height="25" fill="#ff0000"/><rect x="1136" y="263" width="3" height="22" fill="#800000"/><rect x="1140" y="263" width="3" height="22" fill="#ff0000"/><rect x="1144" y="263" width="3" height="22" fill="#800000"/><rect x="1148" y="263" width="3" height="19" fill="#800000"/><rect x="1152" y="263" width="3" height="17" fill="#800000"/><rect x="5" y="241" width="4" height="1" fill="#ff0f8c"/><rect x="8" y="242" width="7" height="1" fill="#ff0f8c"/><rect x="14" y="243" width="6" height="1" fill="#ff0f8c"/><rect x="19" y="244" width="58" height="1" fill="#ff0f8c"/><rect x="76" y="245" width="54" height="1" fill="#ff0f8c"/><rect x="6" y="246" width="2" height="1" fill="#ff0f8c"/><rect x="5" y="247" width="1" height="1" fill="#ff0f8c"/><rect x="424" y="256" width="34" height="1" fill="#ff0000"/><rect x="357" y="257" width="67" height="1" fill="#ff0000"/><rect x="291" y="258" width="66" height="1" fill="#ff0000"/><rect x="257" y="259" width="34" height="1" fill="#ff0000"/><rect x="472" y="282" width="2" height="1" fill="#9acd32"/><rect x="469" y="283" width="3" height="1" fill="#9acd32"/><rect x="466" y="284" width="3" height="1" fill="#9acd32"/><rect x="463" y="285" width="3" height="1" fill="#9acd32"/><rect x="460" y="286" width="3" height="1" fill="#9acd32"/><rect x="457" y="287" width="3" height="1" fill="#9acd32"/><rect x="454" y="288" width="3" height="1" fill="#9acd32"/><rect x="451" y="289" width="3" height="1" fill="#9acd32"/><rect x="448" y="290" width="3" height="1" fill="#9acd32"/><rect x="445" y="291" width="3" height="1" fill="#9acd32"/><rect x="441" y="292" width="4" height="1" fill="#9acd32"/><rect x="438" y="293" width="3" height="1" fill="#9acd32"/><rect x="435" y="294" width="3" height="1" fill="#9acd32"/><rect x="432" y="295" width="3" height="1" fill="#9acd32"/><rect x="429" y="296" width="3" height="1" fill="#9acd32"/><rect x="426" y="297" width="3" height="1" fill="#9acd32"/><rect x="423" y="298" width="3" height="1" fill="#9acd32"/><rect x="420" y="299" width="3" height="1" fill="#9acd32"/><rect x="417" y="300" width="3" height="1" fill="#9acd32"/><rect x="414" y="301" width="3" height="1" fill="#9acd32"/><rect x="411" y="302" width="3" height="1" fill="#9acd32"/><rect x="408" y="303" width="3" height="1" fill="#9acd32"/><rect x="405" y="304" width="3" height="1" fill="#9acd32"/><rect x="402" y="305" width="3" height="1" fill="#9acd32"/><rect x="399" y="306" width="3" height="1" fill="#9acd32"/><rect x="396" y="307" width="3" height="1" fill="#9acd32"/><rect x="393" y="308" width="3" height="1" fill="#9acd32"/><rect x="390" y="309" width="3" height="1" fill="#9acd32"/><rect x="387" y="310" width="3" height="1" fill="#9acd32"/><rect x="384" y="311" width="3" height="1" fill="#9acd32"/><rect x="381" y="312" width="3" height="1" fill="#9acd32"/><rect x="377" y="313" width="4" height="1" fill="#9acd32"/><rect x="374" y="314" width="3" height="1" fill="#9acd32"/><rect x="371" y="315" width="3" height="1" fill="#9acd32"/><rect x="368" y="316" width="3" height="1" fill="#9acd32"/><rect x="365" y="317" width="3" height="1" fill="#9acd32"/><rect x="362" y="318" width="3" height="1" fill="#9acd32"/><rect x="359" y="319" width="3" height="1" fill="#9acd32"/><rect x="356" y="320" width="3" height="1" fill="#9acd32"/><rect x="353" y="321" width="3" height="1" fill="#9acd32"/><rect x="350" y="322" width="3" height="1" fill="#9acd32"/><rect x="347" y="323" width="3" height="1" fill="#9acd32"/><rect x="345" y="324" width="2" height="1" fill="#9acd32"/><rect x="500" y="282" width="2" height="1" fill="#9acd32"/><rect x="496" y="283" width="4" height="1" fill="#9acd32"/><rect x="492" y="284" width="4" height="1" fill="#9acd32"/><rect x="488" y="285" width="4" height="1" fill="#9acd32"/><rect x="485" y="286" width="3" height="1" fill="#9acd32"/><rect x="481" y="287" width="4" height="1" fill="#9acd32"/><rect x="477" y="288" width="4" height="1" fill="#9acd32"/><rect x="474" y="289" width="3" height="1" fill="#9acd32"/><rect x="470" y="290" width="4" height="1" fill="#9acd32"/><rect x="466" y="291" width="4" height="1" fill="#9acd32"/><rect x="462" y="292" width="4" height="1" fill="#9acd32"/><rect x="459" y="293" width="3" height="1" fill="#9acd32"/><rect x="455" y="294" width="4" height="1" fill="#9acd32"/><rect x="451" y="295" width="4" height="1" fill="#9acd32"/><rect x="448" y="296" width="3" height="1" fill="#9acd32"/><rect x="444" y="297" width="4" height="1" fill="#9acd32"/><rect x="440" y="298" width="4" height="1" fill="#9acd32"/><rect x="436" y="299" width="4" height="1" fill="#9acd32"/><rect x="433" y="300" width="3" height="1" fill="#9acd32"/><rect x="429" y="301" width="4" height="1" fill="#9acd32"/><rect x="425" y="302" width="4" height="1" fill="#9acd32"/><rect x="422" y="303" width="3" height="1" fill="#9acd32"/><rect x="418" y="304" width="4" height="1" fill="#9acd32"/><rect x="414" y="305" width="4" height="1" fill="#9acd32"/><rect x="410" y="306" width="4" height="1" fill="#9acd32"/><rect x="407" y="307" width="3" height="1" fill="#9acd32"/><rect x="403" y="308" width="4" height="1" fill="#9acd32"/><rect x="399" y="309" width="4" height="1" fill="#9acd32"/><rect x="396" y="310" width="3" height="1" fill="#9acd32"/><rect x="392" y="311" width="4" height="1" fill="#9acd32"/><rect x="388" y="312" width="4" height="1" fill="#9acd32"/><rect x="384" y="313" width="4" height="1" fill="#9acd32"/><rect x="381" y="314" width="3" height="1" fill="#9acd32"/><rect x="377" y="315" width="4" height="1" fill="#9acd32"/><rect x="373" y="316" width="4" height="1" fill="#9acd32"/><rect x="370" y="317" width="3" height="1" fill="#9acd32"/><rect x="366" y="318" width="4" height="1" fill="#9acd32"/><rect x="362" y="319" width="4" height="1" fill="#9acd32"/><rect x="358" y="320" width="4" height="1" fill="#9acd32"/><rect x="355" y="321" width="3" height="1" fill="#9acd32"/><rect x="351" y="322" width="4" height="1" fill="#9acd32"/><rect x="347" y="323" width="4" height="1" fill="#9acd32"/><rect x="345" y="324" width="2" height="1" fill="#9acd32"/><rect x="528" y="279" width="6" height="1" fill="#9acd32"/><rect x="517" y="280" width="11" height="1" fill="#9acd32"/><rect x="507" y="281" width="10" height="1" fill="#9acd32"/><rect x="501" y="282" width="6" height="1" fill="#9acd32"/><rect x="817" y="272" width="4" height="1" fill="#32cd32"/><rect x="821" y="273" width="6" height="1" fill="#32cd32"/><rect x="827" y="274" width="7" height="1" fill="#32cd32"/><rect x="834" y="275" width="4" height="1" fill="#32cd32"/><rect x="1014" y="293" width="4" height="1" fill="#9acd32"/><rect x="1007" y="294" width="7" height="1" fill="#9acd32"/><rect x="1000" y="295" width="7" height="1" fill="#9acd32"/><rect x="993" y="296" width="7" height="1" fill="#9acd32"/><rect x="986" y="297" width="7" height="1" fill="#9acd32"/><rect x="979" y="298" width="7" height="1" fill="#9acd32"/><rect x="972" y="299" width="7" height="1" fill="#9acd32"/><rect x="965" y="300" width="7" height="1" fill="#9acd32"/><rect x="958" y="301" width="7" height="1" fill="#9acd32"/><rect x="951" y="302" width="7" height="1" fill="#9acd32"/><rect x="944" y="303" width="7" height="1" fill="#9acd32"/><rect x="937" y="304" width="7" height="1" fill="#9acd32"/><rect x="933" y="305" width="4" height="1" fill="#9acd32"/><rect x="1132" y="288" width="2" height="1" fill="#9acd32"/><rect x="1129" y="289" width="3" height="1" fill="#9acd32"/><rect x="1126" y="290" width="3" height="1" fill="#9acd32"/><rect x="1123" y="291" width="3" height="1" fill="#9acd32"/><rect x="1120" y="292" width="3" height="1" fill="#9acd32"/><rect x="1117" y="293" width="3" height="1" fill="#9acd32"/><rect x="1114" y="294" width="3" height="1" fill="#9acd32"/><rect x="1111" y="295" width="3" height="1" fill="#9acd32"/><rect x="1108" y="296" width="3" height="1" fill="#9acd32"/><rect x="1105" y="297" width="3" height="1" fill="#9acd32"/><rect x="1102" y="298" width="3" height="1" fill="#9acd32"/><rect x="1099" y="299" width="3" height="1" fill="#9acd32"/><rect x="1095" y="300" width="4" height="1" fill="#9acd32"/><rect x="1092" y="301" width="3" height="1" fill="#9acd32"/><rect x="1089" y="302" width="3" height="1" fill="#9acd32"/><rect x="1086" y="303" width="3" height="1" fill="#9acd32"/><rect x="1083" y="304" width="3" height="1" fill="#9acd32"/><rect x="1080" y="305" width="3" height="1" fill="#9acd32"/><rect x="1077" y="306" width="3" height="1" fill="#9acd32"/><rect x="1074" y="307" width="3" height="1" fill="#9acd32"/><rect x="1071" y="308" width="3" height="1" fill="#9acd32"/><rect x="1068" y="309" width="3" height="1" fill="#9acd32"/><rect x="1065" y="310" width="3" height="1" fill="#9acd32"/><rect x="1062" y="311" width="3" height="1" fill="#9acd32"/><rect x="1059" y="312" width="3" height="1" fill="#9acd32"/><rect x="1057" y="313" width="2" height="1" fill="#9acd32"/><rect x="645" y="339" width="1" height="1" fill="#ffa500"/><rect x="644" y="340" width="1" height="1" fill="#ffa500"/><rect x="646" y="340" width="1" height="1" fill="#ffa500"/><rect x="643" y="341" width="1" height="1" fill="#ffa500"/><rect x="647" y="341" width="1" height="1" fill="#ffa500"/><rect x="642" y="342" width="1" height="1" fill="#ffa500"/><rect x="648" y="342" width="1" height="1" fill="#ffa500"/><rect x="641" y="343" width="1" height="1" fill="#ffa500"/><rect x="649" y="343" width="5" height="1" fill="#ffa500"/><rect x="641" y="344" width="1" height="1" fill="#ffa500"/><rect x="654" y="344" width="1" height="1" fill="#ffa500"/><rect x="640" y="345" width="1" height="1" fill="#ffa500"/><rect x="654" y="345" width="1" height="1" fill="#ffa500"/><rect x="640" y="346" width="1" height="1" fill="#ffa500"/><rect x="655" y="346" width="1" height="1" fill="#ffa500"/><rect x="640" y="347" width="1" height="1" fill="#ffa500"/><rect x="655" y="347" width="1" height="1" fill="#ffa500"/><rect x="639" y="348" width="1" height="1" fill="#ffa500"/><rect x="656" y="348" width="1" height="1" fill="#ffa500"/><rect x="639" y="349" width="1" height="1" fill="#ffa500"/><rect x="656" y="349" width="1" height="1" fill="#ffa500"/><rect x="733" y="349" width="1" height="1" fill="#ffa500"/><rect x="638" y="350" width="1" height="1" fill="#ffa500"/><rect x="657" y="350" width="1" height="1" fill="#ffa500"/><rect x="668" y="350" width="6" height="1" fill="#ffa500"/><rect x="732" y="350" width="2" height="1" fill="#ffa500"/><rect x="638" y="351" width="1" height="1" fill="#ffa500"/><rect x="657" y="351" width="2" height="1" fill="#ffa500"/><rect x="666" y="351" width="2" height="1" fill="#ffa500"/><rect x="674" y="351" width="2" height="1" fill="#ffa500"/><rect x="732" y="351" width="2" height="1" fill="#ffa500"/><rect x="638" y="352" width="1" height="1" fill="#ffa500"/><rect x="659" y="352" width="7" height="1" fill="#ffa500"/><rect x="676" y="352" width="10" height="1" fill="#ffa500"/><rect x="731" y="352" width="1" height="1" fill="#ffa500"/><rect x="734" y="352" width="1" height="1" fill="#ffa500"/><rect x="637" y="353" width="1" height="1" fill="#ffa500"/><rect x="686" y="353" width="1" height="1" fill="#ffa500"/><rect x="731" y="353" width="1" height="1" fill="#ffa500"/><rect x="734" y="353" width="1" height="1" fill="#ffa500"/><rect x="637" y="354" width="1" height="1" fill="#ffa500"/><rect x="687" y="354" width="1" height="1" fill="#ffa500"/><rect x="730" y="354" width="1" height="1" fill="#ffa500"/><rect x="734" y="354" width="1" height="1" fill="#ffa500"/><rect x="637" y="355" width="1" height="1" fill="#ffa500"/><rect x="688" y="355" width="1" height="1" fill="#ffa500"/><rect x="730" y="355" width="1" height="1" fill="#ffa500"/><rect x="734" y="355" width="1" height="1" fill="#ffa500"/><rect x="637" y="356" width="1" height="1" fill="#ffa500"/><rect x="689" y="356" width="1" height="1" fill="#ffa500"/><rect x="729" y="356" width="1" height="1" fill="#ffa500"/><rect x="735" y="356" width="1" height="1" fill="#ffa500"/><rect x="636" y="357" width="1" height="1" fill="#ffa500"/><rect x="690" y="357" width="1" height="1" fill="#ffa500"/><rect x="729" y="357" width="1" height="1" fill="#ffa500"/><rect x="735" y="357" width="1" height="1" fill="#ffa500"/><rect x="636" y="358" width="1" height="1" fill="#ffa500"/><rect x="691" y="358" width="1" height="1" fill="#ffa500"/><rect x="716" y="358" width="2" height="1" fill="#ffa500"/><rect x="728" y="358" width="1" height="1" fill="#ffa500"/><rect x="735" y="358" width="1" height="1" fill="#ffa500"/><rect x="745" y="358" width="1" height="1" fill="#ffa500"/><rect x="636" y="359" width="1" height="1" fill="#ffa500"/><rect x="691" y="359" width="1" height="1" fill="#ffa500"/><rect x="714" y="359" width="2" height="1" fill="#ffa500"/><rect x="718" y="359" width="1" height="1" fill="#ffa500"/><rect x="728" y="359" width="1" height="1" fill="#ffa500"/><rect x="735" y="359" width="1" height="1" fill="#ffa500"/><rect x="745" y="359" width="1" height="1" fill="#ffa500"/><rect x="169" y="360" width="1" height="1" fill="#ffa500"/><rect x="636" y="360" width="1" height="1" fill="#ffa500"/><rect x="692" y="360" width="1" height="1" fill="#ffa500"/><rect x="711" y="360" width="3" height="1" fill="#ffa500"/><rect x="718" y="360" width="1" height="1" fill="#ffa500"/><rect x="727" y="360" width="1" height="1" fill="#ffa500"/><rect x="736" y="360" width="1" height="1" fill="#ffa500"/><rect x="744" y="360" width="1" height="1" fill="#ffa500"/><rect x="746" y="360" width="1" height="1" fill="#ffa500"/><rect x="169" y="361" width="1" height="1" fill="#ffa500"/><rect x="183" y="361" width="3" height="1" fill="#ffa500"/><rect x="636" y="361" width="1" height="1" fill="#ffa500"/><rect x="693" y="361" width="1" height="1" fill="#ffa500"/><rect x="700" y="361" width="11" height="1" fill="#ffa500"/><rect x="719" y="361" width="1" height="1" fill="#ffa500"/><rect x="727" y="361" width="1" height="1" fill="#ffa500"/><rect x="736" y="361" width="1" height="1" fill="#ffa500"/><rect x="744" y="361" width="1" height="1" fill="#ffa500"/><rect x="746" y="361" width="1" height="1" fill="#ffa500"/><rect x="773" y="361" width="1" height="1" fill="#ffa500"/><rect x="168" y="362" width="1" height="1" fill="#ffa500"/><rect x="170" y="362" width="1" height="1" fill="#ffa500"/><rect x="181" y="362" width="2" height="1" fill="#ffa500"/><rect x="186" y="362" width="1" height="1" fill="#ffa500"/><rect x="195" y="362" width="7" height="1" fill="#ffa500"/><rect x="636" y="362" width="1" height="1" fill="#ffa500"/><rect x="694" y="362" width="2" height="1" fill="#ffa500"/><rect x="698" y="362" width="2" height="1" fill="#ffa500"/><rect x="719" y="362" width="1" height="1" fill="#ffa500"/><rect x="726" y="362" width="1" height="1" fill="#ffa500"/><rect x="736" y="362" width="1" height="1" fill="#ffa500"/><rect x="743" y="362" width="1" height="1" fill="#ffa500"/><rect x="746" y="362" width="1" height="1" fill="#ffa500"/><rect x="773" y="362" width="1" height="1" fill="#ffa500"/><rect x="168" y="363" width="1" height="1" fill="#ffa500"/><rect x="170" y="363" width="1" height="1" fill="#ffa500"/><rect x="179" y="363" width="2" height="1" fill="#ffa500"/><rect x="187" y="363" width="1" height="1" fill="#ffa500"/><rect x="192" y="363" width="3" height="1" fill="#ffa500"/><rect x="202" y="363" width="1" height="1" fill="#ffa500"/><rect x="635" y="363" width="1" height="1" fill="#ffa500"/><rect x="696" y="363" width="2" height="1" fill="#ffa500"/><rect x="720" y="363" width="1" height="1" fill="#ffa500"/><rect x="726" y="363" width="1" height="1" fill="#ffa500"/><rect x="736" y="363" width="1" height="1" fill="#ffa500"/><rect x="743" y="363" width="1" height="1" fill="#ffa500"/><rect x="747" y="363" width="1" height="1" fill="#ffa500"/><rect x="772" y="363" width="1" height="1" fill="#ffa500"/><rect x="774" y="363" width="1" height="1" fill="#ffa500"/><rect x="167" y="364" width="1" height="1" fill="#ffa500"/><rect x="171" y="364" width="1" height="1" fill="#ffa500"/><rect x="178" y="364" width="1" height="1" fill="#ffa500"/><rect x="188" y="364" width="1" height="1" fill="#ffa500"/><rect x="190" y="364" width="2" height="1" fill="#ffa500"/><rect x="203" y="364" width="1" height="1" fill="#ffa500"/><rect x="635" y="364" width="1" height="1" fill="#ffa500"/><rect x="720" y="364" width="1" height="1" fill="#ffa500"/><rect x="724" y="364" width="2" height="1" fill="#ffa500"/><rect x="737" y="364" width="1" height="1" fill="#ffa500"/><rect x="743" y="364" width="1" height="1" fill="#ffa500"/><rect x="747" y="364" width="1" height="1" fill="#ffa500"/><rect x="772" y="364" width="1" height="1" fill="#ffa500"/><rect x="774" y="364" width="1" height="1" fill="#ffa500"/><rect x="167" y="365" width="1" height="1" fill="#ffa500"/><rect x="171" y="365" width="1" height="1" fill="#ffa500"/><rect x="177" y="365" width="1" height="1" fill="#ffa500"/><rect x="189" y="365" width="1" height="1" fill="#ffa500"/><rect x="204" y="365" width="1" height="1" fill="#ffa500"/><rect x="635" y="365" width="1" height="1" fill="#ffa500"/><rect x="721" y="365" width="3" height="1" fill="#ffa500"/><rect x="737" y="365" width="1" height="1" fill="#ffa500"/><rect x="742" y="365" width="1" height="1" fill="#ffa500"/><rect x="747" y="365" width="1" height="1" fill="#ffa500"/><rect x="771" y="365" width="1" height="1" fill="#ffa500"/><rect x="774" y="365" width="1" height="1" fill="#ffa500"/><rect x="149" y="366" width="1" height="1" fill="#ffa500"/><rect x="166" y="366" width="1" height="1" fill="#ffa500"/><rect x="172" y="366" width="1" height="1" fill="#ffa500"/><rect x="176" y="366" width="1" height="1" fill="#ffa500"/><rect x="205" y="366" width="2" height="1" fill="#ffa500"/><rect x="635" y="366" width="1" height="1" fill="#ffa500"/><rect x="721" y="366" width="1" height="1" fill="#ffa500"/><rect x="737" y="366" width="1" height="1" fill="#ffa500"/><rect x="742" y="366" width="1" height="1" fill="#ffa500"/><rect x="747" y="366" width="1" height="1" fill="#ffa500"/><rect x="771" y="366" width="1" height="1" fill="#ffa500"/><rect x="775" y="366" width="1" height="1" fill="#ffa500"/><rect x="149" y="367" width="1" height="1" fill="#ffa500"/><rect x="166" y="367" width="1" height="1" fill="#ffa500"/><rect x="172" y="367" width="1" height="1" fill="#ffa500"/><rect x="175" y="367" width="1" height="1" fill="#ffa500"/><rect x="207" y="367" width="4" height="1" fill="#ffa500"/><rect x="635" y="367" width="1" height="1" fill="#ffa500"/><rect x="738" y="367" width="2" height="1" fill="#ffa500"/><rect x="741" y="367" width="1" height="1" fill="#ffa500"/><rect x="748" y="367" width="1" height="1" fill="#ffa500"/><rect x="770" y="367" width="1" height="1" fill="#ffa500"/><rect x="775" y="367" width="1" height="1" fill="#ffa500"/><rect x="148" y="368" width="1" height="1" fill="#ffa500"/><rect x="150" y="368" width="1" height="1" fill="#ffa500"/><rect x="165" y="368" width="1" height="1" fill="#ffa500"/><rect x="173" y="368" width="2" height="1" fill="#ffa500"/><rect x="211" y="368" width="3" height="1" fill="#ffa500"/><rect x="634" y="368" width="1" height="1" fill="#ffa500"/><rect x="740" y="368" width="2" height="1" fill="#ffa500"/><rect x="748" y="368" width="1" height="1" fill="#ffa500"/><rect x="753" y="368" width="2" height="1" fill="#ffa500"/><rect x="770" y="368" width="1" height="1" fill="#ffa500"/><rect x="776" y="368" width="1" height="1" fill="#ffa500"/><rect x="21" y="369" width="1" height="1" fill="#ffa500"/><rect x="148" y="369" width="1" height="1" fill="#ffa500"/><rect x="150" y="369" width="1" height="1" fill="#ffa500"/><rect x="157" y="369" width="9" height="1" fill="#ffa500"/><rect x="173" y="369" width="1" height="1" fill="#ffa500"/><rect x="214" y="369" width="1" height="1" fill="#ffa500"/><rect x="634" y="369" width="1" height="1" fill="#ffa500"/><rect x="748" y="369" width="1" height="1" fill="#ffa500"/><rect x="751" y="369" width="2" height="1" fill="#ffa500"/><rect x="755" y="369" width="12" height="1" fill="#ffa500"/><rect x="769" y="369" width="1" height="1" fill="#ffa500"/><rect x="776" y="369" width="1" height="1" fill="#ffa500"/><rect x="20" y="370" width="1" height="1" fill="#ffa500"/><rect x="22" y="370" width="1" height="1" fill="#ffa500"/><rect x="129" y="370" width="1" height="1" fill="#ffa500"/><rect x="147" y="370" width="1" height="1" fill="#ffa500"/><rect x="150" y="370" width="1" height="1" fill="#ffa500"/><rect x="157" y="370" width="1" height="1" fill="#ffa500"/><rect x="214" y="370" width="1" height="1" fill="#ffa500"/><rect x="634" y="370" width="1" height="1" fill="#ffa500"/><rect x="749" y="370" width="2" height="1" fill="#ffa500"/><rect x="767" y="370" width="3" height="1" fill="#ffa500"/><rect x="776" y="370" width="1" height="1" fill="#ffa500"/><rect x="20" y="371" width="1" height="1" fill="#ffa500"/><rect x="23" y="371" width="2" height="1" fill="#ffa500"/><rect x="129" y="371" width="2" height="1" fill="#ffa500"/><rect x="147" y="371" width="1" height="1" fill="#ffa500"/><rect x="150" y="371" width="1" height="1" fill="#ffa500"/><rect x="156" y="371" width="1" height="1" fill="#ffa500"/><rect x="215" y="371" width="1" height="1" fill="#ffa500"/><rect x="634" y="371" width="1" height="1" fill="#ffa500"/><rect x="749" y="371" width="1" height="1" fill="#ffa500"/><rect x="777" y="371" width="1" height="1" fill="#ffa500"/><rect x="885" y="371" width="2" height="1" fill="#ffa500"/><rect x="19" y="372" width="1" height="1" fill="#ffa500"/><rect x="25" y="372" width="1" height="1" fill="#ffa500"/><rect x="128" y="372" width="1" height="1" fill="#ffa500"/><rect x="130" y="372" width="1" height="1" fill="#ffa500"/><rect x="147" y="372" width="1" height="1" fill="#ffa500"/><rect x="151" y="372" width="1" height="1" fill="#ffa500"/><rect x="156" y="372" width="1" height="1" fill="#ffa500"/><rect x="215" y="372" width="1" height="1" fill="#ffa500"/><rect x="225" y="372" width="1" height="1" fill="#ffa500"/><rect x="634" y="372" width="1" height="1" fill="#ffa500"/><rect x="777" y="372" width="1" height="1" fill="#ffa500"/><rect x="884" y="372" width="1" height="1" fill="#ffa500"/><rect x="887" y="372" width="3" height="1" fill="#ffa500"/><rect x="7" y="373" width="3" height="1" fill="#ffa500"/><rect x="18" y="373" width="1" height="1" fill="#ffa500"/><rect x="26" y="373" width="2" height="1" fill="#ffa500"/><rect x="31" y="373" width="3" height="1" fill="#ffa500"/><rect x="128" y="373" width="1" height="1" fill="#ffa500"/><rect x="131" y="373" width="1" height="1" fill="#ffa500"/><rect x="146" y="373" width="1" height="1" fill="#ffa500"/><rect x="151" y="373" width="1" height="1" fill="#ffa500"/><rect x="156" y="373" width="1" height="1" fill="#ffa500"/><rect x="216" y="373" width="1" height="1" fill="#ffa500"/><rect x="223" y="373" width="2" height="1" fill="#ffa500"/><rect x="226" y="373" width="1" height="1" fill="#ffa500"/><rect x="634" y="373" width="1" height="1" fill="#ffa500"/><rect x="778" y="373" width="2" height="1" fill="#ffa500"/><rect x="884" y="373" width="1" height="1" fill="#ffa500"/><rect x="890" y="373" width="2" height="1" fill="#ffa500"/><rect x="5" y="374" width="2" height="1" fill="#ffa500"/><rect x="10" y="374" width="2" height="1" fill="#ffa500"/><rect x="18" y="374" width="1" height="1" fill="#ffa500"/><rect x="28" y="374" width="3" height="1" fill="#ffa500"/><rect x="34" y="374" width="1" height="1" fill="#ffa500"/><rect x="89" y="374" width="1" height="1" fill="#ffa500"/><rect x="101" y="374" width="2" height="1" fill="#ffa500"/><rect x="107" y="374" width="3" height="1" fill="#ffa500"/><rect x="121" y="374" width="1" height="1" fill="#ffa500"/><rect x="127" y="374" width="1" height="1" fill="#ffa500"/><rect x="132" y="374" width="1" height="1" fill="#ffa500"/><rect x="146" y="374" width="1" height="1" fill="#ffa500"/><rect x="151" y="374" width="1" height="1" fill="#ffa500"/><rect x="155" y="374" width="1" height="1" fill="#ffa500"/><rect x="216" y="374" width="1" height="1" fill="#ffa500"/><rect x="222" y="374" width="1" height="1" fill="#ffa500"/><rect x="226" y="374" width="1" height="1" fill="#ffa500"/><rect x="633" y="374" width="1" height="1" fill="#ffa500"/><rect x="780" y="374" width="6" height="1" fill="#ffa500"/><rect x="883" y="374" width="1" height="1" fill="#ffa500"/><rect x="892" y="374" width="2" height="1" fill="#ffa500"/><rect x="12" y="375" width="6" height="1" fill="#ffa500"/><rect x="35" y="375" width="1" height="1" fill="#ffa500"/><rect x="89" y="375" width="2" height="1" fill="#ffa500"/><rect x="100" y="375" width="1" height="1" fill="#ffa500"/><rect x="103" y="375" width="4" height="1" fill="#ffa500"/><rect x="110" y="375" width="1" height="1" fill="#ffa500"/><rect x="120" y="375" width="1" height="1" fill="#ffa500"/><rect x="122" y="375" width="1" height="1" fill="#ffa500"/><rect x="127" y="375" width="1" height="1" fill="#ffa500"/><rect x="132" y="375" width="1" height="1" fill="#ffa500"/><rect x="145" y="375" width="1" height="1" fill="#ffa500"/><rect x="151" y="375" width="1" height="1" fill="#ffa500"/><rect x="155" y="375" width="1" height="1" fill="#ffa500"/><rect x="217" y="375" width="1" height="1" fill="#ffa500"/><rect x="219" y="375" width="3" height="1" fill="#ffa500"/><rect x="227" y="375" width="1" height="1" fill="#ffa500"/><rect x="633" y="375" width="1" height="1" fill="#ffa500"/><rect x="786" y="375" width="1" height="1" fill="#ffa500"/><rect x="883" y="375" width="1" height="1" fill="#ffa500"/><rect x="894" y="375" width="2" height="1" fill="#ffa500"/><rect x="35" y="376" width="1" height="1" fill="#ffa500"/><rect x="88" y="376" width="1" height="1" fill="#ffa500"/><rect x="91" y="376" width="1" height="1" fill="#ffa500"/><rect x="100" y="376" width="1" height="1" fill="#ffa500"/><rect x="111" y="376" width="2" height="1" fill="#ffa500"/><rect x="119" y="376" width="1" height="1" fill="#ffa500"/><rect x="123" y="376" width="1" height="1" fill="#ffa500"/><rect x="126" y="376" width="1" height="1" fill="#ffa500"/><rect x="133" y="376" width="1" height="1" fill="#ffa500"/><rect x="143" y="376" width="3" height="1" fill="#ffa500"/><rect x="152" y="376" width="1" height="1" fill="#ffa500"/><rect x="155" y="376" width="1" height="1" fill="#ffa500"/><rect x="217" y="376" width="2" height="1" fill="#ffa500"/><rect x="228" y="376" width="1" height="1" fill="#ffa500"/><rect x="633" y="376" width="1" height="1" fill="#ffa500"/><rect x="787" y="376" width="1" height="1" fill="#ffa500"/><rect x="797" y="376" width="1" height="1" fill="#ffa500"/><rect x="882" y="376" width="1" height="1" fill="#ffa500"/><rect x="896" y="376" width="2" height="1" fill="#ffa500"/><rect x="36" y="377" width="1" height="1" fill="#ffa500"/><rect x="39" y="377" width="3" height="1" fill="#ffa500"/><rect x="88" y="377" width="1" height="1" fill="#ffa500"/><rect x="92" y="377" width="1" height="1" fill="#ffa500"/><rect x="99" y="377" width="1" height="1" fill="#ffa500"/><rect x="113" y="377" width="1" height="1" fill="#ffa500"/><rect x="119" y="377" width="1" height="1" fill="#ffa500"/><rect x="124" y="377" width="1" height="1" fill="#ffa500"/><rect x="126" y="377" width="1" height="1" fill="#ffa500"/><rect x="134" y="377" width="1" height="1" fill="#ffa500"/><rect x="140" y="377" width="3" height="1" fill="#ffa500"/><rect x="152" y="377" width="1" height="1" fill="#ffa500"/><rect x="155" y="377" width="1" height="1" fill="#ffa500"/><rect x="228" y="377" width="1" height="1" fill="#ffa500"/><rect x="231" y="377" width="3" height="1" fill="#ffa500"/><rect x="633" y="377" width="1" height="1" fill="#ffa500"/><rect x="788" y="377" width="1" height="1" fill="#ffa500"/><rect x="796" y="377" width="1" height="1" fill="#ffa500"/><rect x="798" y="377" width="2" height="1" fill="#ffa500"/><rect x="882" y="377" width="1" height="1" fill="#ffa500"/><rect x="898" y="377" width="1" height="1" fill="#ffa500"/><rect x="37" y="378" width="2" height="1" fill="#ffa500"/><rect x="42" y="378" width="1" height="1" fill="#ffa500"/><rect x="87" y="378" width="1" height="1" fill="#ffa500"/><rect x="93" y="378" width="1" height="1" fill="#ffa500"/><rect x="98" y="378" width="1" height="1" fill="#ffa500"/><rect x="114" y="378" width="2" height="1" fill="#ffa500"/><rect x="118" y="378" width="1" height="1" fill="#ffa500"/><rect x="125" y="378" width="1" height="1" fill="#ffa500"/><rect x="135" y="378" width="2" height="1" fill="#ffa500"/><rect x="138" y="378" width="2" height="1" fill="#ffa500"/><rect x="152" y="378" width="1" height="1" fill="#ffa500"/><rect x="154" y="378" width="1" height="1" fill="#ffa500"/><rect x="229" y="378" width="2" height="1" fill="#ffa500"/><rect x="234" y="378" width="1" height="1" fill="#ffa500"/><rect x="632" y="378" width="1" height="1" fill="#ffa500"/><rect x="789" y="378" width="1" height="1" fill="#ffa500"/><rect x="795" y="378" width="1" height="1" fill="#ffa500"/><rect x="800" y="378" width="6" height="1" fill="#ffa500"/><rect x="861" y="378" width="1" height="1" fill="#ffa500"/><rect x="873" y="378" width="2" height="1" fill="#ffa500"/><rect x="879" y="378" width="3" height="1" fill="#ffa500"/><rect x="898" y="378" width="1" height="1" fill="#ffa500"/><rect x="42" y="379" width="1" height="1" fill="#ffa500"/><rect x="49" y="379" width="1" height="1" fill="#ffa500"/><rect x="87" y="379" width="1" height="1" fill="#ffa500"/><rect x="94" y="379" width="2" height="1" fill="#ffa500"/><rect x="98" y="379" width="1" height="1" fill="#ffa500"/><rect x="116" y="379" width="2" height="1" fill="#ffa500"/><rect x="137" y="379" width="1" height="1" fill="#ffa500"/><rect x="152" y="379" width="1" height="1" fill="#ffa500"/><rect x="154" y="379" width="1" height="1" fill="#ffa500"/><rect x="235" y="379" width="1" height="1" fill="#ffa500"/><rect x="457" y="379" width="1" height="1" fill="#ffa500"/><rect x="632" y="379" width="1" height="1" fill="#ffa500"/><rect x="790" y="379" width="2" height="1" fill="#ffa500"/><rect x="794" y="379" width="1" height="1" fill="#ffa500"/><rect x="805" y="379" width="1" height="1" fill="#ffa500"/><rect x="859" y="379" width="2" height="1" fill="#ffa500"/><rect x="862" y="379" width="2" height="1" fill="#ffa500"/><rect x="872" y="379" width="1" height="1" fill="#ffa500"/><rect x="875" y="379" width="4" height="1" fill="#ffa500"/><rect x="899" y="379" width="1" height="1" fill="#ffa500"/><rect x="43" y="380" width="1" height="1" fill="#ffa500"/><rect x="48" y="380" width="1" height="1" fill="#ffa500"/><rect x="50" y="380" width="1" height="1" fill="#ffa500"/><rect x="86" y="380" width="1" height="1" fill="#ffa500"/><rect x="96" y="380" width="2" height="1" fill="#ffa500"/><rect x="153" y="380" width="2" height="1" fill="#ffa500"/><rect x="236" y="380" width="1" height="1" fill="#ffa500"/><rect x="455" y="380" width="2" height="1" fill="#ffa500"/><rect x="458" y="380" width="1" height="1" fill="#ffa500"/><rect x="529" y="380" width="1" height="1" fill="#ffa500"/><rect x="632" y="380" width="1" height="1" fill="#ffa500"/><rect x="792" y="380" width="2" height="1" fill="#ffa500"/><rect x="806" y="380" width="1" height="1" fill="#ffa500"/><rect x="858" y="380" width="1" height="1" fill="#ffa500"/><rect x="864" y="380" width="2" height="1" fill="#ffa500"/><rect x="872" y="380" width="1" height="1" fill="#ffa500"/><rect x="899" y="380" width="1" height="1" fill="#ffa500"/><rect x="44" y="381" width="1" height="1" fill="#ffa500"/><rect x="47" y="381" width="1" height="1" fill="#ffa500"/><rect x="51" y="381" width="1" height="1" fill="#ffa500"/><rect x="86" y="381" width="1" height="1" fill="#ffa500"/><rect x="153" y="381" width="1" height="1" fill="#ffa500"/><rect x="237" y="381" width="1" height="1" fill="#ffa500"/><rect x="454" y="381" width="1" height="1" fill="#ffa500"/><rect x="458" y="381" width="1" height="1" fill="#ffa500"/><rect x="529" y="381" width="1" height="1" fill="#ffa500"/><rect x="569" y="381" width="5" height="1" fill="#ffa500"/><rect x="632" y="381" width="1" height="1" fill="#ffa500"/><rect x="806" y="381" width="1" height="1" fill="#ffa500"/><rect x="857" y="381" width="1" height="1" fill="#ffa500"/><rect x="866" y="381" width="1" height="1" fill="#ffa500"/><rect x="871" y="381" width="1" height="1" fill="#ffa500"/><rect x="900" y="381" width="1" height="1" fill="#ffa500"/><rect x="44" y="382" width="1" height="1" fill="#ffa500"/><rect x="46" y="382" width="1" height="1" fill="#ffa500"/><rect x="52" y="382" width="1" height="1" fill="#ffa500"/><rect x="85" y="382" width="1" height="1" fill="#ffa500"/><rect x="153" y="382" width="1" height="1" fill="#ffa500"/><rect x="238" y="382" width="1" height="1" fill="#ffa500"/><rect x="257" y="382" width="1" height="1" fill="#ffa500"/><rect x="452" y="382" width="2" height="1" fill="#ffa500"/><rect x="459" y="382" width="1" height="1" fill="#ffa500"/><rect x="529" y="382" width="1" height="1" fill="#ffa500"/><rect x="569" y="382" width="1" height="1" fill="#ffa500"/><rect x="574" y="382" width="1" height="1" fill="#ffa500"/><rect x="625" y="382" width="1" height="1" fill="#ffa500"/><rect x="631" y="382" width="1" height="1" fill="#ffa500"/><rect x="807" y="382" width="1" height="1" fill="#ffa500"/><rect x="856" y="382" width="1" height="1" fill="#ffa500"/><rect x="867" y="382" width="1" height="1" fill="#ffa500"/><rect x="870" y="382" width="1" height="1" fill="#ffa500"/><rect x="900" y="382" width="1" height="1" fill="#ffa500"/><rect x="904" y="382" width="2" height="1" fill="#ffa500"/><rect x="1117" y="382" width="1" height="1" fill="#ffa500"/><rect x="45" y="383" width="1" height="1" fill="#ffa500"/><rect x="53" y="383" width="1" height="1" fill="#ffa500"/><rect x="84" y="383" width="1" height="1" fill="#ffa500"/><rect x="239" y="383" width="2" height="1" fill="#ffa500"/><rect x="256" y="383" width="2" height="1" fill="#ffa500"/><rect x="450" y="383" width="2" height="1" fill="#ffa500"/><rect x="459" y="383" width="1" height="1" fill="#ffa500"/><rect x="528" y="383" width="1" height="1" fill="#ffa500"/><rect x="530" y="383" width="1" height="1" fill="#ffa500"/><rect x="568" y="383" width="1" height="1" fill="#ffa500"/><rect x="575" y="383" width="1" height="1" fill="#ffa500"/><rect x="624" y="383" width="2" height="1" fill="#ffa500"/><rect x="631" y="383" width="1" height="1" fill="#ffa500"/><rect x="807" y="383" width="1" height="1" fill="#ffa500"/><rect x="813" y="383" width="1" height="1" fill="#ffa500"/><rect x="825" y="383" width="2" height="1" fill="#ffa500"/><rect x="856" y="383" width="1" height="1" fill="#ffa500"/><rect x="868" y="383" width="1" height="1" fill="#ffa500"/><rect x="870" y="383" width="1" height="1" fill="#ffa500"/><rect x="901" y="383" width="3" height="1" fill="#ffa500"/><rect x="905" y="383" width="1" height="1" fill="#ffa500"/><rect x="1117" y="383" width="1" height="1" fill="#ffa500"/><rect x="53" y="384" width="1" height="1" fill="#ffa500"/><rect x="83" y="384" width="1" height="1" fill="#ffa500"/><rect x="241" y="384" width="1" height="1" fill="#ffa500"/><rect x="249" y="384" width="1" height="1" fill="#ffa500"/><rect x="256" y="384" width="2" height="1" fill="#ffa500"/><rect x="449" y="384" width="1" height="1" fill="#ffa500"/><rect x="460" y="384" width="1" height="1" fill="#ffa500"/><rect x="528" y="384" width="1" height="1" fill="#ffa500"/><rect x="530" y="384" width="1" height="1" fill="#ffa500"/><rect x="568" y="384" width="1" height="1" fill="#ffa500"/><rect x="575" y="384" width="1" height="1" fill="#ffa500"/><rect x="624" y="384" width="1" height="1" fill="#ffa500"/><rect x="626" y="384" width="1" height="1" fill="#ffa500"/><rect x="631" y="384" width="1" height="1" fill="#ffa500"/><rect x="808" y="384" width="1" height="1" fill="#ffa500"/><rect x="812" y="384" width="2" height="1" fill="#ffa500"/><rect x="824" y="384" width="1" height="1" fill="#ffa500"/><rect x="827" y="384" width="3" height="1" fill="#ffa500"/><rect x="855" y="384" width="1" height="1" fill="#ffa500"/><rect x="869" y="384" width="1" height="1" fill="#ffa500"/><rect x="901" y="384" width="1" height="1" fill="#ffa500"/><rect x="906" y="384" width="1" height="1" fill="#ffa500"/><rect x="1005" y="384" width="1" height="1" fill="#ffa500"/><rect x="1117" y="384" width="2" height="1" fill="#ffa500"/><rect x="54" y="385" width="1" height="1" fill="#ffa500"/><rect x="83" y="385" width="1" height="1" fill="#ffa500"/><rect x="242" y="385" width="1" height="1" fill="#ffa500"/><rect x="247" y="385" width="2" height="1" fill="#ffa500"/><rect x="250" y="385" width="1" height="1" fill="#ffa500"/><rect x="255" y="385" width="1" height="1" fill="#ffa500"/><rect x="258" y="385" width="1" height="1" fill="#ffa500"/><rect x="449" y="385" width="1" height="1" fill="#ffa500"/><rect x="460" y="385" width="1" height="1" fill="#ffa500"/><rect x="517" y="385" width="1" height="1" fill="#ffa500"/><rect x="528" y="385" width="1" height="1" fill="#ffa500"/><rect x="530" y="385" width="1" height="1" fill="#ffa500"/><rect x="568" y="385" width="1" height="1" fill="#ffa500"/><rect x="576" y="385" width="1" height="1" fill="#ffa500"/><rect x="623" y="385" width="1" height="1" fill="#ffa500"/><rect x="626" y="385" width="1" height="1" fill="#ffa500"/><rect x="631" y="385" width="1" height="1" fill="#ffa500"/><rect x="808" y="385" width="1" height="1" fill="#ffa500"/><rect x="811" y="385" width="1" height="1" fill="#ffa500"/><rect x="814" y="385" width="1" height="1" fill="#ffa500"/><rect x="824" y="385" width="1" height="1" fill="#ffa500"/><rect x="830" y="385" width="1" height="1" fill="#ffa500"/><rect x="854" y="385" width="1" height="1" fill="#ffa500"/><rect x="906" y="385" width="1" height="1" fill="#ffa500"/><rect x="1004" y="385" width="2" height="1" fill="#ffa500"/><rect x="1116" y="385" width="1" height="1" fill="#ffa500"/><rect x="1118" y="385" width="1" height="1" fill="#ffa500"/><rect x="54" y="386" width="1" height="1" fill="#ffa500"/><rect x="82" y="386" width="1" height="1" fill="#ffa500"/><rect x="243" y="386" width="2" height="1" fill="#ffa500"/><rect x="246" y="386" width="1" height="1" fill="#ffa500"/><rect x="251" y="386" width="1" height="1" fill="#ffa500"/><rect x="254" y="386" width="1" height="1" fill="#ffa500"/><rect x="258" y="386" width="1" height="1" fill="#ffa500"/><rect x="448" y="386" width="1" height="1" fill="#ffa500"/><rect x="461" y="386" width="1" height="1" fill="#ffa500"/><rect x="516" y="386" width="1" height="1" fill="#ffa500"/><rect x="518" y="386" width="1" height="1" fill="#ffa500"/><rect x="528" y="386" width="1" height="1" fill="#ffa500"/><rect x="530" y="386" width="1" height="1" fill="#ffa500"/><rect x="568" y="386" width="1" height="1" fill="#ffa500"/><rect x="577" y="386" width="5" height="1" fill="#ffa500"/><rect x="622" y="386" width="1" height="1" fill="#ffa500"/><rect x="627" y="386" width="1" height="1" fill="#ffa500"/><rect x="630" y="386" width="1" height="1" fill="#ffa500"/><rect x="809" y="386" width="2" height="1" fill="#ffa500"/><rect x="814" y="386" width="1" height="1" fill="#ffa500"/><rect x="823" y="386" width="1" height="1" fill="#ffa500"/><rect x="830" y="386" width="1" height="1" fill="#ffa500"/><rect x="854" y="386" width="1" height="1" fill="#ffa500"/><rect x="906" y="386" width="1" height="1" fill="#ffa500"/><rect x="1003" y="386" width="1" height="1" fill="#ffa500"/><rect x="1005" y="386" width="1" height="1" fill="#ffa500"/><rect x="1116" y="386" width="1" height="1" fill="#ffa500"/><rect x="1118" y="386" width="1" height="1" fill="#ffa500"/><rect x="55" y="387" width="1" height="1" fill="#ffa500"/><rect x="77" y="387" width="5" height="1" fill="#ffa500"/><rect x="245" y="387" width="1" height="1" fill="#ffa500"/><rect x="252" y="387" width="1" height="1" fill="#ffa500"/><rect x="254" y="387" width="1" height="1" fill="#ffa500"/><rect x="258" y="387" width="1" height="1" fill="#ffa500"/><rect x="448" y="387" width="1" height="1" fill="#ffa500"/><rect x="462" y="387" width="1" height="1" fill="#ffa500"/><rect x="515" y="387" width="1" height="1" fill="#ffa500"/><rect x="519" y="387" width="1" height="1" fill="#ffa500"/><rect x="527" y="387" width="1" height="1" fill="#ffa500"/><rect x="531" y="387" width="1" height="1" fill="#ffa500"/><rect x="567" y="387" width="1" height="1" fill="#ffa500"/><rect x="582" y="387" width="2" height="1" fill="#ffa500"/><rect x="622" y="387" width="1" height="1" fill="#ffa500"/><rect x="627" y="387" width="1" height="1" fill="#ffa500"/><rect x="630" y="387" width="1" height="1" fill="#ffa500"/><rect x="809" y="387" width="1" height="1" fill="#ffa500"/><rect x="815" y="387" width="1" height="1" fill="#ffa500"/><rect x="822" y="387" width="1" height="1" fill="#ffa500"/><rect x="831" y="387" width="1" height="1" fill="#ffa500"/><rect x="852" y="387" width="2" height="1" fill="#ffa500"/><rect x="907" y="387" width="1" height="1" fill="#ffa500"/><rect x="1003" y="387" width="1" height="1" fill="#ffa500"/><rect x="1006" y="387" width="1" height="1" fill="#ffa500"/><rect x="1116" y="387" width="1" height="1" fill="#ffa500"/><rect x="1119" y="387" width="1" height="1" fill="#ffa500"/><rect x="55" y="388" width="1" height="1" fill="#ffa500"/><rect x="77" y="388" width="1" height="1" fill="#ffa500"/><rect x="253" y="388" width="1" height="1" fill="#ffa500"/><rect x="258" y="388" width="1" height="1" fill="#ffa500"/><rect x="448" y="388" width="1" height="1" fill="#ffa500"/><rect x="463" y="388" width="2" height="1" fill="#ffa500"/><rect x="481" y="388" width="1" height="1" fill="#ffa500"/><rect x="515" y="388" width="1" height="1" fill="#ffa500"/><rect x="519" y="388" width="1" height="1" fill="#ffa500"/><rect x="527" y="388" width="1" height="1" fill="#ffa500"/><rect x="531" y="388" width="1" height="1" fill="#ffa500"/><rect x="567" y="388" width="1" height="1" fill="#ffa500"/><rect x="584" y="388" width="3" height="1" fill="#ffa500"/><rect x="617" y="388" width="5" height="1" fill="#ffa500"/><rect x="628" y="388" width="1" height="1" fill="#ffa500"/><rect x="630" y="388" width="1" height="1" fill="#ffa500"/><rect x="815" y="388" width="1" height="1" fill="#ffa500"/><rect x="822" y="388" width="1" height="1" fill="#ffa500"/><rect x="831" y="388" width="1" height="1" fill="#ffa500"/><rect x="841" y="388" width="6" height="1" fill="#ffa500"/><rect x="850" y="388" width="2" height="1" fill="#ffa500"/><rect x="907" y="388" width="1" height="1" fill="#ffa500"/><rect x="941" y="388" width="1" height="1" fill="#ffa500"/><rect x="1002" y="388" width="1" height="1" fill="#ffa500"/><rect x="1006" y="388" width="1" height="1" fill="#ffa500"/><rect x="1116" y="388" width="1" height="1" fill="#ffa500"/><rect x="1119" y="388" width="1" height="1" fill="#ffa500"/><rect x="56" y="389" width="1" height="1" fill="#ffa500"/><rect x="76" y="389" width="1" height="1" fill="#ffa500"/><rect x="259" y="389" width="1" height="1" fill="#ffa500"/><rect x="447" y="389" width="1" height="1" fill="#ffa500"/><rect x="465" y="389" width="1" height="1" fill="#ffa500"/><rect x="480" y="389" width="1" height="1" fill="#ffa500"/><rect x="482" y="389" width="1" height="1" fill="#ffa500"/><rect x="514" y="389" width="1" height="1" fill="#ffa500"/><rect x="520" y="389" width="1" height="1" fill="#ffa500"/><rect x="527" y="389" width="1" height="1" fill="#ffa500"/><rect x="531" y="389" width="1" height="1" fill="#ffa500"/><rect x="537" y="389" width="9" height="1" fill="#ffa500"/><rect x="567" y="389" width="1" height="1" fill="#ffa500"/><rect x="587" y="389" width="3" height="1" fill="#ffa500"/><rect x="616" y="389" width="1" height="1" fill="#ffa500"/><rect x="628" y="389" width="1" height="1" fill="#ffa500"/><rect x="630" y="389" width="1" height="1" fill="#ffa500"/><rect x="816" y="389" width="1" height="1" fill="#ffa500"/><rect x="821" y="389" width="1" height="1" fill="#ffa500"/><rect x="832" y="389" width="1" height="1" fill="#ffa500"/><rect x="840" y="389" width="1" height="1" fill="#ffa500"/><rect x="847" y="389" width="3" height="1" fill="#ffa500"/><rect x="907" y="389" width="1" height="1" fill="#ffa500"/><rect x="941" y="389" width="2" height="1" fill="#ffa500"/><rect x="953" y="389" width="5" height="1" fill="#ffa500"/><rect x="997" y="389" width="5" height="1" fill="#ffa500"/><rect x="1006" y="389" width="1" height="1" fill="#ffa500"/><rect x="1109" y="389" width="1" height="1" fill="#ffa500"/><rect x="1115" y="389" width="1" height="1" fill="#ffa500"/><rect x="1119" y="389" width="1" height="1" fill="#ffa500"/><rect x="1125" y="389" width="1" height="1" fill="#ffa500"/><rect x="56" y="390" width="1" height="1" fill="#ffa500"/><rect x="76" y="390" width="1" height="1" fill="#ffa500"/><rect x="259" y="390" width="1" height="1" fill="#ffa500"/><rect x="447" y="390" width="1" height="1" fill="#ffa500"/><rect x="465" y="390" width="1" height="1" fill="#ffa500"/><rect x="480" y="390" width="1" height="1" fill="#ffa500"/><rect x="482" y="390" width="1" height="1" fill="#ffa500"/><rect x="511" y="390" width="3" height="1" fill="#ffa500"/><rect x="521" y="390" width="1" height="1" fill="#ffa500"/><rect x="527" y="390" width="1" height="1" fill="#ffa500"/><rect x="531" y="390" width="1" height="1" fill="#ffa500"/><rect x="537" y="390" width="1" height="1" fill="#ffa500"/><rect x="546" y="390" width="1" height="1" fill="#ffa500"/><rect x="566" y="390" width="1" height="1" fill="#ffa500"/><rect x="590" y="390" width="1" height="1" fill="#ffa500"/><rect x="615" y="390" width="1" height="1" fill="#ffa500"/><rect x="629" y="390" width="1" height="1" fill="#ffa500"/><rect x="816" y="390" width="1" height="1" fill="#ffa500"/><rect x="819" y="390" width="2" height="1" fill="#ffa500"/><rect x="832" y="390" width="1" height="1" fill="#ffa500"/><rect x="840" y="390" width="1" height="1" fill="#ffa500"/><rect x="908" y="390" width="1" height="1" fill="#ffa500"/><rect x="940" y="390" width="1" height="1" fill="#ffa500"/><rect x="942" y="390" width="1" height="1" fill="#ffa500"/><rect x="951" y="390" width="2" height="1" fill="#ffa500"/><rect x="958" y="390" width="2" height="1" fill="#ffa500"/><rect x="985" y="390" width="1" height="1" fill="#ffa500"/><rect x="996" y="390" width="1" height="1" fill="#ffa500"/><rect x="1006" y="390" width="1" height="1" fill="#ffa500"/><rect x="1109" y="390" width="1" height="1" fill="#ffa500"/><rect x="1115" y="390" width="1" height="1" fill="#ffa500"/><rect x="1120" y="390" width="1" height="1" fill="#ffa500"/><rect x="1124" y="390" width="2" height="1" fill="#ffa500"/><rect x="57" y="391" width="1" height="1" fill="#ffa500"/><rect x="76" y="391" width="1" height="1" fill="#ffa500"/><rect x="259" y="391" width="1" height="1" fill="#ffa500"/><rect x="447" y="391" width="1" height="1" fill="#ffa500"/><rect x="466" y="391" width="1" height="1" fill="#ffa500"/><rect x="479" y="391" width="1" height="1" fill="#ffa500"/><rect x="483" y="391" width="1" height="1" fill="#ffa500"/><rect x="508" y="391" width="3" height="1" fill="#ffa500"/><rect x="522" y="391" width="1" height="1" fill="#ffa500"/><rect x="526" y="391" width="1" height="1" fill="#ffa500"/><rect x="531" y="391" width="1" height="1" fill="#ffa500"/><rect x="536" y="391" width="1" height="1" fill="#ffa500"/><rect x="546" y="391" width="1" height="1" fill="#ffa500"/><rect x="566" y="391" width="1" height="1" fill="#ffa500"/><rect x="591" y="391" width="1" height="1" fill="#ffa500"/><rect x="615" y="391" width="1" height="1" fill="#ffa500"/><rect x="629" y="391" width="1" height="1" fill="#ffa500"/><rect x="817" y="391" width="2" height="1" fill="#ffa500"/><rect x="833" y="391" width="1" height="1" fill="#ffa500"/><rect x="839" y="391" width="1" height="1" fill="#ffa500"/><rect x="908" y="391" width="1" height="1" fill="#ffa500"/><rect x="940" y="391" width="1" height="1" fill="#ffa500"/><rect x="943" y="391" width="1" height="1" fill="#ffa500"/><rect x="950" y="391" width="1" height="1" fill="#ffa500"/><rect x="960" y="391" width="3" height="1" fill="#ffa500"/><rect x="984" y="391" width="1" height="1" fill="#ffa500"/><rect x="986" y="391" width="2" height="1" fill="#ffa500"/><rect x="996" y="391" width="1" height="1" fill="#ffa500"/><rect x="1006" y="391" width="1" height="1" fill="#ffa500"/><rect x="1109" y="391" width="2" height="1" fill="#ffa500"/><rect x="1115" y="391" width="1" height="1" fill="#ffa500"/><rect x="1120" y="391" width="1" height="1" fill="#ffa500"/><rect x="1123" y="391" width="1" height="1" fill="#ffa500"/><rect x="1126" y="391" width="1" height="1" fill="#ffa500"/><rect x="57" y="392" width="1" height="1" fill="#ffa500"/><rect x="75" y="392" width="1" height="1" fill="#ffa500"/><rect x="259" y="392" width="1" height="1" fill="#ffa500"/><rect x="447" y="392" width="1" height="1" fill="#ffa500"/><rect x="466" y="392" width="1" height="1" fill="#ffa500"/><rect x="478" y="392" width="1" height="1" fill="#ffa500"/><rect x="484" y="392" width="1" height="1" fill="#ffa500"/><rect x="506" y="392" width="2" height="1" fill="#ffa500"/><rect x="522" y="392" width="1" height="1" fill="#ffa500"/><rect x="526" y="392" width="1" height="1" fill="#ffa500"/><rect x="532" y="392" width="1" height="1" fill="#ffa500"/><rect x="536" y="392" width="1" height="1" fill="#ffa500"/><rect x="547" y="392" width="1" height="1" fill="#ffa500"/><rect x="566" y="392" width="1" height="1" fill="#ffa500"/><rect x="592" y="392" width="1" height="1" fill="#ffa500"/><rect x="614" y="392" width="1" height="1" fill="#ffa500"/><rect x="817" y="392" width="1" height="1" fill="#ffa500"/><rect x="834" y="392" width="1" height="1" fill="#ffa500"/><rect x="838" y="392" width="1" height="1" fill="#ffa500"/><rect x="908" y="392" width="1" height="1" fill="#ffa500"/><rect x="939" y="392" width="1" height="1" fill="#ffa500"/><rect x="943" y="392" width="1" height="1" fill="#ffa500"/><rect x="949" y="392" width="1" height="1" fill="#ffa500"/><rect x="963" y="392" width="4" height="1" fill="#ffa500"/><rect x="984" y="392" width="1" height="1" fill="#ffa500"/><rect x="988" y="392" width="2" height="1" fill="#ffa500"/><rect x="995" y="392" width="1" height="1" fill="#ffa500"/><rect x="1007" y="392" width="1" height="1" fill="#ffa500"/><rect x="1108" y="392" width="1" height="1" fill="#ffa500"/><rect x="1110" y="392" width="1" height="1" fill="#ffa500"/><rect x="1115" y="392" width="1" height="1" fill="#ffa500"/><rect x="1120" y="392" width="1" height="1" fill="#ffa500"/><rect x="1123" y="392" width="1" height="1" fill="#ffa500"/><rect x="1126" y="392" width="1" height="1" fill="#ffa500"/><rect x="57" y="393" width="1" height="1" fill="#ffa500"/><rect x="75" y="393" width="1" height="1" fill="#ffa500"/><rect x="259" y="393" width="1" height="1" fill="#ffa500"/><rect x="420" y="393" width="2" height="1" fill="#ffa500"/><rect x="446" y="393" width="1" height="1" fill="#ffa500"/><rect x="467" y="393" width="1" height="1" fill="#ffa500"/><rect x="478" y="393" width="1" height="1" fill="#ffa500"/><rect x="484" y="393" width="1" height="1" fill="#ffa500"/><rect x="491" y="393" width="3" height="1" fill="#ffa500"/><rect x="505" y="393" width="1" height="1" fill="#ffa500"/><rect x="523" y="393" width="1" height="1" fill="#ffa500"/><rect x="526" y="393" width="1" height="1" fill="#ffa500"/><rect x="532" y="393" width="1" height="1" fill="#ffa500"/><rect x="535" y="393" width="1" height="1" fill="#ffa500"/><rect x="548" y="393" width="1" height="1" fill="#ffa500"/><rect x="566" y="393" width="1" height="1" fill="#ffa500"/><rect x="593" y="393" width="5" height="1" fill="#ffa500"/><rect x="605" y="393" width="1" height="1" fill="#ffa500"/><rect x="613" y="393" width="1" height="1" fill="#ffa500"/><rect x="835" y="393" width="2" height="1" fill="#ffa500"/><rect x="838" y="393" width="1" height="1" fill="#ffa500"/><rect x="909" y="393" width="1" height="1" fill="#ffa500"/><rect x="939" y="393" width="1" height="1" fill="#ffa500"/><rect x="944" y="393" width="1" height="1" fill="#ffa500"/><rect x="947" y="393" width="2" height="1" fill="#ffa500"/><rect x="967" y="393" width="3" height="1" fill="#ffa500"/><rect x="983" y="393" width="1" height="1" fill="#ffa500"/><rect x="990" y="393" width="1" height="1" fill="#ffa500"/><rect x="995" y="393" width="1" height="1" fill="#ffa500"/><rect x="1007" y="393" width="1" height="1" fill="#ffa500"/><rect x="1108" y="393" width="1" height="1" fill="#ffa500"/><rect x="1111" y="393" width="1" height="1" fill="#ffa500"/><rect x="1114" y="393" width="1" height="1" fill="#ffa500"/><rect x="1121" y="393" width="2" height="1" fill="#ffa500"/><rect x="1126" y="393" width="1" height="1" fill="#ffa500"/><rect x="58" y="394" width="1" height="1" fill="#ffa500"/><rect x="75" y="394" width="1" height="1" fill="#ffa500"/><rect x="260" y="394" width="1" height="1" fill="#ffa500"/><rect x="418" y="394" width="2" height="1" fill="#ffa500"/><rect x="422" y="394" width="1" height="1" fill="#ffa500"/><rect x="446" y="394" width="1" height="1" fill="#ffa500"/><rect x="467" y="394" width="1" height="1" fill="#ffa500"/><rect x="477" y="394" width="1" height="1" fill="#ffa500"/><rect x="485" y="394" width="6" height="1" fill="#ffa500"/><rect x="494" y="394" width="1" height="1" fill="#ffa500"/><rect x="504" y="394" width="1" height="1" fill="#ffa500"/><rect x="523" y="394" width="1" height="1" fill="#ffa500"/><rect x="526" y="394" width="1" height="1" fill="#ffa500"/><rect x="532" y="394" width="1" height="1" fill="#ffa500"/><rect x="535" y="394" width="1" height="1" fill="#ffa500"/><rect x="548" y="394" width="1" height="1" fill="#ffa500"/><rect x="565" y="394" width="1" height="1" fill="#ffa500"/><rect x="598" y="394" width="1" height="1" fill="#ffa500"/><rect x="604" y="394" width="1" height="1" fill="#ffa500"/><rect x="606" y="394" width="1" height="1" fill="#ffa500"/><rect x="612" y="394" width="1" height="1" fill="#ffa500"/><rect x="837" y="394" width="1" height="1" fill="#ffa500"/><rect x="909" y="394" width="1" height="1" fill="#ffa500"/><rect x="939" y="394" width="1" height="1" fill="#ffa500"/><rect x="944" y="394" width="1" height="1" fill="#ffa500"/><rect x="946" y="394" width="1" height="1" fill="#ffa500"/><rect x="970" y="394" width="2" height="1" fill="#ffa500"/><rect x="975" y="394" width="3" height="1" fill="#ffa500"/><rect x="983" y="394" width="1" height="1" fill="#ffa500"/><rect x="991" y="394" width="1" height="1" fill="#ffa500"/><rect x="994" y="394" width="1" height="1" fill="#ffa500"/><rect x="1007" y="394" width="1" height="1" fill="#ffa500"/><rect x="1108" y="394" width="1" height="1" fill="#ffa500"/><rect x="1111" y="394" width="1" height="1" fill="#ffa500"/><rect x="1114" y="394" width="1" height="1" fill="#ffa500"/><rect x="1121" y="394" width="1" height="1" fill="#ffa500"/><rect x="1127" y="394" width="1" height="1" fill="#ffa500"/><rect x="58" y="395" width="1" height="1" fill="#ffa500"/><rect x="74" y="395" width="1" height="1" fill="#ffa500"/><rect x="260" y="395" width="1" height="1" fill="#ffa500"/><rect x="417" y="395" width="1" height="1" fill="#ffa500"/><rect x="423" y="395" width="2" height="1" fill="#ffa500"/><rect x="446" y="395" width="1" height="1" fill="#ffa500"/><rect x="468" y="395" width="1" height="1" fill="#ffa500"/><rect x="476" y="395" width="1" height="1" fill="#ffa500"/><rect x="495" y="395" width="1" height="1" fill="#ffa500"/><rect x="504" y="395" width="1" height="1" fill="#ffa500"/><rect x="524" y="395" width="2" height="1" fill="#ffa500"/><rect x="532" y="395" width="1" height="1" fill="#ffa500"/><rect x="534" y="395" width="1" height="1" fill="#ffa500"/><rect x="549" y="395" width="1" height="1" fill="#ffa500"/><rect x="565" y="395" width="1" height="1" fill="#ffa500"/><rect x="599" y="395" width="1" height="1" fill="#ffa500"/><rect x="603" y="395" width="1" height="1" fill="#ffa500"/><rect x="607" y="395" width="1" height="1" fill="#ffa500"/><rect x="611" y="395" width="1" height="1" fill="#ffa500"/><rect x="910" y="395" width="1" height="1" fill="#ffa500"/><rect x="938" y="395" width="1" height="1" fill="#ffa500"/><rect x="945" y="395" width="1" height="1" fill="#ffa500"/><rect x="972" y="395" width="3" height="1" fill="#ffa500"/><rect x="978" y="395" width="1" height="1" fill="#ffa500"/><rect x="982" y="395" width="1" height="1" fill="#ffa500"/><rect x="992" y="395" width="1" height="1" fill="#ffa500"/><rect x="994" y="395" width="1" height="1" fill="#ffa500"/><rect x="1007" y="395" width="1" height="1" fill="#ffa500"/><rect x="1108" y="395" width="1" height="1" fill="#ffa500"/><rect x="1111" y="395" width="1" height="1" fill="#ffa500"/><rect x="1114" y="395" width="1" height="1" fill="#ffa500"/><rect x="1127" y="395" width="1" height="1" fill="#ffa500"/><rect x="59" y="396" width="1" height="1" fill="#ffa500"/><rect x="74" y="396" width="1" height="1" fill="#ffa500"/><rect x="260" y="396" width="1" height="1" fill="#ffa500"/><rect x="416" y="396" width="1" height="1" fill="#ffa500"/><rect x="425" y="396" width="1" height="1" fill="#ffa500"/><rect x="445" y="396" width="1" height="1" fill="#ffa500"/><rect x="468" y="396" width="1" height="1" fill="#ffa500"/><rect x="475" y="396" width="1" height="1" fill="#ffa500"/><rect x="495" y="396" width="1" height="1" fill="#ffa500"/><rect x="503" y="396" width="1" height="1" fill="#ffa500"/><rect x="524" y="396" width="2" height="1" fill="#ffa500"/><rect x="533" y="396" width="2" height="1" fill="#ffa500"/><rect x="550" y="396" width="1" height="1" fill="#ffa500"/><rect x="563" y="396" width="2" height="1" fill="#ffa500"/><rect x="599" y="396" width="1" height="1" fill="#ffa500"/><rect x="603" y="396" width="1" height="1" fill="#ffa500"/><rect x="607" y="396" width="1" height="1" fill="#ffa500"/><rect x="611" y="396" width="1" height="1" fill="#ffa500"/><rect x="911" y="396" width="1" height="1" fill="#ffa500"/><rect x="938" y="396" width="1" height="1" fill="#ffa500"/><rect x="979" y="396" width="2" height="1" fill="#ffa500"/><rect x="982" y="396" width="1" height="1" fill="#ffa500"/><rect x="993" y="396" width="1" height="1" fill="#ffa500"/><rect x="1008" y="396" width="1" height="1" fill="#ffa500"/><rect x="1108" y="396" width="1" height="1" fill="#ffa500"/><rect x="1112" y="396" width="1" height="1" fill="#ffa500"/><rect x="1114" y="396" width="1" height="1" fill="#ffa500"/><rect x="1128" y="396" width="1" height="1" fill="#ffa500"/><rect x="59" y="397" width="1" height="1" fill="#ffa500"/><rect x="74" y="397" width="1" height="1" fill="#ffa500"/><rect x="260" y="397" width="1" height="1" fill="#ffa500"/><rect x="415" y="397" width="1" height="1" fill="#ffa500"/><rect x="426" y="397" width="1" height="1" fill="#ffa500"/><rect x="445" y="397" width="1" height="1" fill="#ffa500"/><rect x="469" y="397" width="1" height="1" fill="#ffa500"/><rect x="475" y="397" width="1" height="1" fill="#ffa500"/><rect x="496" y="397" width="1" height="1" fill="#ffa500"/><rect x="502" y="397" width="1" height="1" fill="#ffa500"/><rect x="525" y="397" width="1" height="1" fill="#ffa500"/><rect x="533" y="397" width="1" height="1" fill="#ffa500"/><rect x="551" y="397" width="2" height="1" fill="#ffa500"/><rect x="562" y="397" width="1" height="1" fill="#ffa500"/><rect x="600" y="397" width="1" height="1" fill="#ffa500"/><rect x="602" y="397" width="1" height="1" fill="#ffa500"/><rect x="608" y="397" width="1" height="1" fill="#ffa500"/><rect x="610" y="397" width="1" height="1" fill="#ffa500"/><rect x="912" y="397" width="1" height="1" fill="#ffa500"/><rect x="915" y="397" width="4" height="1" fill="#ffa500"/><rect x="937" y="397" width="1" height="1" fill="#ffa500"/><rect x="981" y="397" width="1" height="1" fill="#ffa500"/><rect x="1008" y="397" width="1" height="1" fill="#ffa500"/><rect x="1107" y="397" width="1" height="1" fill="#ffa500"/><rect x="1112" y="397" width="2" height="1" fill="#ffa500"/><rect x="1128" y="397" width="1" height="1" fill="#ffa500"/><rect x="59" y="398" width="1" height="1" fill="#ffa500"/><rect x="65" y="398" width="2" height="1" fill="#ffa500"/><rect x="73" y="398" width="1" height="1" fill="#ffa500"/><rect x="261" y="398" width="1" height="1" fill="#ffa500"/><rect x="414" y="398" width="1" height="1" fill="#ffa500"/><rect x="427" y="398" width="1" height="1" fill="#ffa500"/><rect x="437" y="398" width="1" height="1" fill="#ffa500"/><rect x="445" y="398" width="1" height="1" fill="#ffa500"/><rect x="469" y="398" width="2" height="1" fill="#ffa500"/><rect x="474" y="398" width="1" height="1" fill="#ffa500"/><rect x="497" y="398" width="2" height="1" fill="#ffa500"/><rect x="502" y="398" width="1" height="1" fill="#ffa500"/><rect x="533" y="398" width="1" height="1" fill="#ffa500"/><rect x="553" y="398" width="1" height="1" fill="#ffa500"/><rect x="560" y="398" width="2" height="1" fill="#ffa500"/><rect x="601" y="398" width="1" height="1" fill="#ffa500"/><rect x="609" y="398" width="1" height="1" fill="#ffa500"/><rect x="913" y="398" width="2" height="1" fill="#ffa500"/><rect x="919" y="398" width="3" height="1" fill="#ffa500"/><rect x="937" y="398" width="1" height="1" fill="#ffa500"/><rect x="1008" y="398" width="1" height="1" fill="#ffa500"/><rect x="1107" y="398" width="1" height="1" fill="#ffa500"/><rect x="1113" y="398" width="1" height="1" fill="#ffa500"/><rect x="1128" y="398" width="1" height="1" fill="#ffa500"/><rect x="1152" y="398" width="2" height="1" fill="#ffa500"/><rect x="60" y="399" width="1" height="1" fill="#ffa500"/><rect x="64" y="399" width="1" height="1" fill="#ffa500"/><rect x="67" y="399" width="7" height="1" fill="#ffa500"/><rect x="261" y="399" width="1" height="1" fill="#ffa500"/><rect x="263" y="399" width="3" height="1" fill="#ffa500"/><rect x="412" y="399" width="2" height="1" fill="#ffa500"/><rect x="427" y="399" width="1" height="1" fill="#ffa500"/><rect x="437" y="399" width="2" height="1" fill="#ffa500"/><rect x="444" y="399" width="1" height="1" fill="#ffa500"/><rect x="471" y="399" width="3" height="1" fill="#ffa500"/><rect x="499" y="399" width="3" height="1" fill="#ffa500"/><rect x="554" y="399" width="2" height="1" fill="#ffa500"/><rect x="558" y="399" width="2" height="1" fill="#ffa500"/><rect x="922" y="399" width="1" height="1" fill="#ffa500"/><rect x="937" y="399" width="1" height="1" fill="#ffa500"/><rect x="1008" y="399" width="1" height="1" fill="#ffa500"/><rect x="1107" y="399" width="1" height="1" fill="#ffa500"/><rect x="1113" y="399" width="1" height="1" fill="#ffa500"/><rect x="1129" y="399" width="1" height="1" fill="#ffa500"/><rect x="1150" y="399" width="2" height="1" fill="#ffa500"/><rect x="60" y="400" width="1" height="1" fill="#ffa500"/><rect x="63" y="400" width="1" height="1" fill="#ffa500"/><rect x="261" y="400" width="2" height="1" fill="#ffa500"/><rect x="265" y="400" width="1" height="1" fill="#ffa500"/><rect x="410" y="400" width="2" height="1" fill="#ffa500"/><rect x="428" y="400" width="1" height="1" fill="#ffa500"/><rect x="436" y="400" width="1" height="1" fill="#ffa500"/><rect x="438" y="400" width="1" height="1" fill="#ffa500"/><rect x="444" y="400" width="1" height="1" fill="#ffa500"/><rect x="556" y="400" width="2" height="1" fill="#ffa500"/><rect x="922" y="400" width="1" height="1" fill="#ffa500"/><rect x="937" y="400" width="1" height="1" fill="#ffa500"/><rect x="1008" y="400" width="1" height="1" fill="#ffa500"/><rect x="1107" y="400" width="1" height="1" fill="#ffa500"/><rect x="1129" y="400" width="1" height="1" fill="#ffa500"/><rect x="1148" y="400" width="2" height="1" fill="#ffa500"/><rect x="61" y="401" width="2" height="1" fill="#ffa500"/><rect x="266" y="401" width="1" height="1" fill="#ffa500"/><rect x="407" y="401" width="3" height="1" fill="#ffa500"/><rect x="429" y="401" width="1" height="1" fill="#ffa500"/><rect x="436" y="401" width="1" height="1" fill="#ffa500"/><rect x="439" y="401" width="1" height="1" fill="#ffa500"/><rect x="443" y="401" width="1" height="1" fill="#ffa500"/><rect x="923" y="401" width="1" height="1" fill="#ffa500"/><rect x="936" y="401" width="1" height="1" fill="#ffa500"/><rect x="1009" y="401" width="1" height="1" fill="#ffa500"/><rect x="1107" y="401" width="1" height="1" fill="#ffa500"/><rect x="1130" y="401" width="1" height="1" fill="#ffa500"/><rect x="1146" y="401" width="2" height="1" fill="#ffa500"/><rect x="61" y="402" width="1" height="1" fill="#ffa500"/><rect x="266" y="402" width="1" height="1" fill="#ffa500"/><rect x="403" y="402" width="4" height="1" fill="#ffa500"/><rect x="430" y="402" width="1" height="1" fill="#ffa500"/><rect x="436" y="402" width="1" height="1" fill="#ffa500"/><rect x="439" y="402" width="1" height="1" fill="#ffa500"/><rect x="443" y="402" width="1" height="1" fill="#ffa500"/><rect x="923" y="402" width="1" height="1" fill="#ffa500"/><rect x="936" y="402" width="1" height="1" fill="#ffa500"/><rect x="1009" y="402" width="1" height="1" fill="#ffa500"/><rect x="1093" y="402" width="5" height="1" fill="#ffa500"/><rect x="1107" y="402" width="1" height="1" fill="#ffa500"/><rect x="1131" y="402" width="1" height="1" fill="#ffa500"/><rect x="1136" y="402" width="10" height="1" fill="#ffa500"/><rect x="266" y="403" width="1" height="1" fill="#ffa500"/><rect x="399" y="403" width="4" height="1" fill="#ffa500"/><rect x="430" y="403" width="1" height="1" fill="#ffa500"/><rect x="435" y="403" width="1" height="1" fill="#ffa500"/><rect x="440" y="403" width="1" height="1" fill="#ffa500"/><rect x="442" y="403" width="1" height="1" fill="#ffa500"/><rect x="924" y="403" width="1" height="1" fill="#ffa500"/><rect x="936" y="403" width="1" height="1" fill="#ffa500"/><rect x="1009" y="403" width="2" height="1" fill="#ffa500"/><rect x="1093" y="403" width="1" height="1" fill="#ffa500"/><rect x="1098" y="403" width="1" height="1" fill="#ffa500"/><rect x="1106" y="403" width="1" height="1" fill="#ffa500"/><rect x="1132" y="403" width="1" height="1" fill="#ffa500"/><rect x="1134" y="403" width="2" height="1" fill="#ffa500"/><rect x="267" y="404" width="1" height="1" fill="#ffa500"/><rect x="397" y="404" width="2" height="1" fill="#ffa500"/><rect x="431" y="404" width="1" height="1" fill="#ffa500"/><rect x="435" y="404" width="1" height="1" fill="#ffa500"/><rect x="440" y="404" width="1" height="1" fill="#ffa500"/><rect x="442" y="404" width="1" height="1" fill="#ffa500"/><rect x="924" y="404" width="1" height="1" fill="#ffa500"/><rect x="936" y="404" width="1" height="1" fill="#ffa500"/><rect x="1011" y="404" width="3" height="1" fill="#ffa500"/><rect x="1092" y="404" width="1" height="1" fill="#ffa500"/><rect x="1098" y="404" width="1" height="1" fill="#ffa500"/><rect x="1106" y="404" width="1" height="1" fill="#ffa500"/><rect x="1133" y="404" width="1" height="1" fill="#ffa500"/><rect x="267" y="405" width="1" height="1" fill="#ffa500"/><rect x="397" y="405" width="1" height="1" fill="#ffa500"/><rect x="431" y="405" width="1" height="1" fill="#ffa500"/><rect x="434" y="405" width="1" height="1" fill="#ffa500"/><rect x="441" y="405" width="1" height="1" fill="#ffa500"/><rect x="925" y="405" width="1" height="1" fill="#ffa500"/><rect x="936" y="405" width="1" height="1" fill="#ffa500"/><rect x="1014" y="405" width="1" height="1" fill="#ffa500"/><rect x="1092" y="405" width="1" height="1" fill="#ffa500"/><rect x="1099" y="405" width="1" height="1" fill="#ffa500"/><rect x="1106" y="405" width="1" height="1" fill="#ffa500"/><rect x="268" y="406" width="1" height="1" fill="#ffa500"/><rect x="381" y="406" width="5" height="1" fill="#ffa500"/><rect x="396" y="406" width="1" height="1" fill="#ffa500"/><rect x="432" y="406" width="1" height="1" fill="#ffa500"/><rect x="434" y="406" width="1" height="1" fill="#ffa500"/><rect x="925" y="406" width="5" height="1" fill="#ffa500"/><rect x="935" y="406" width="1" height="1" fill="#ffa500"/><rect x="1015" y="406" width="1" height="1" fill="#ffa500"/><rect x="1043" y="406" width="3" height="1" fill="#ffa500"/><rect x="1091" y="406" width="1" height="1" fill="#ffa500"/><rect x="1099" y="406" width="1" height="1" fill="#ffa500"/><rect x="1106" y="406" width="1" height="1" fill="#ffa500"/><rect x="268" y="407" width="1" height="1" fill="#ffa500"/><rect x="380" y="407" width="1" height="1" fill="#ffa500"/><rect x="386" y="407" width="1" height="1" fill="#ffa500"/><rect x="396" y="407" width="1" height="1" fill="#ffa500"/><rect x="432" y="407" width="1" height="1" fill="#ffa500"/><rect x="434" y="407" width="1" height="1" fill="#ffa500"/><rect x="929" y="407" width="1" height="1" fill="#ffa500"/><rect x="935" y="407" width="1" height="1" fill="#ffa500"/><rect x="1015" y="407" width="1" height="1" fill="#ffa500"/><rect x="1020" y="407" width="2" height="1" fill="#ffa500"/><rect x="1041" y="407" width="2" height="1" fill="#ffa500"/><rect x="1045" y="407" width="1" height="1" fill="#ffa500"/><rect x="1091" y="407" width="1" height="1" fill="#ffa500"/><rect x="1100" y="407" width="1" height="1" fill="#ffa500"/><rect x="1106" y="407" width="1" height="1" fill="#ffa500"/><rect x="268" y="408" width="1" height="1" fill="#ffa500"/><rect x="379" y="408" width="1" height="1" fill="#ffa500"/><rect x="386" y="408" width="1" height="1" fill="#ffa500"/><rect x="395" y="408" width="1" height="1" fill="#ffa500"/><rect x="433" y="408" width="1" height="1" fill="#ffa500"/><rect x="930" y="408" width="1" height="1" fill="#ffa500"/><rect x="935" y="408" width="1" height="1" fill="#ffa500"/><rect x="1016" y="408" width="1" height="1" fill="#ffa500"/><rect x="1018" y="408" width="2" height="1" fill="#ffa500"/><rect x="1022" y="408" width="1" height="1" fill="#ffa500"/><rect x="1041" y="408" width="1" height="1" fill="#ffa500"/><rect x="1046" y="408" width="1" height="1" fill="#ffa500"/><rect x="1090" y="408" width="1" height="1" fill="#ffa500"/><rect x="1100" y="408" width="1" height="1" fill="#ffa500"/><rect x="1105" y="408" width="1" height="1" fill="#ffa500"/><rect x="269" y="409" width="1" height="1" fill="#ffa500"/><rect x="297" y="409" width="1" height="1" fill="#ffa500"/><rect x="373" y="409" width="2" height="1" fill="#ffa500"/><rect x="378" y="409" width="1" height="1" fill="#ffa500"/><rect x="387" y="409" width="1" height="1" fill="#ffa500"/><rect x="395" y="409" width="1" height="1" fill="#ffa500"/><rect x="433" y="409" width="1" height="1" fill="#ffa500"/><rect x="930" y="409" width="1" height="1" fill="#ffa500"/><rect x="935" y="409" width="1" height="1" fill="#ffa500"/><rect x="1017" y="409" width="1" height="1" fill="#ffa500"/><rect x="1023" y="409" width="2" height="1" fill="#ffa500"/><rect x="1040" y="409" width="1" height="1" fill="#ffa500"/><rect x="1046" y="409" width="1" height="1" fill="#ffa500"/><rect x="1090" y="409" width="1" height="1" fill="#ffa500"/><rect x="1101" y="409" width="2" height="1" fill="#ffa500"/><rect x="1105" y="409" width="1" height="1" fill="#ffa500"/><rect x="269" y="410" width="1" height="1" fill="#ffa500"/><rect x="297" y="410" width="2" height="1" fill="#ffa500"/><rect x="373" y="410" width="1" height="1" fill="#ffa500"/><rect x="375" y="410" width="3" height="1" fill="#ffa500"/><rect x="387" y="410" width="1" height="1" fill="#ffa500"/><rect x="395" y="410" width="1" height="1" fill="#ffa500"/><rect x="930" y="410" width="1" height="1" fill="#ffa500"/><rect x="935" y="410" width="1" height="1" fill="#ffa500"/><rect x="1025" y="410" width="1" height="1" fill="#ffa500"/><rect x="1040" y="410" width="1" height="1" fill="#ffa500"/><rect x="1046" y="410" width="1" height="1" fill="#ffa500"/><rect x="1084" y="410" width="3" height="1" fill="#ffa500"/><rect x="1089" y="410" width="1" height="1" fill="#ffa500"/><rect x="1103" y="410" width="3" height="1" fill="#ffa500"/><rect x="270" y="411" width="1" height="1" fill="#ffa500"/><rect x="296" y="411" width="1" height="1" fill="#ffa500"/><rect x="298" y="411" width="1" height="1" fill="#ffa500"/><rect x="372" y="411" width="1" height="1" fill="#ffa500"/><rect x="388" y="411" width="1" height="1" fill="#ffa500"/><rect x="394" y="411" width="1" height="1" fill="#ffa500"/><rect x="931" y="411" width="1" height="1" fill="#ffa500"/><rect x="934" y="411" width="1" height="1" fill="#ffa500"/><rect x="1026" y="411" width="1" height="1" fill="#ffa500"/><rect x="1039" y="411" width="1" height="1" fill="#ffa500"/><rect x="1046" y="411" width="1" height="1" fill="#ffa500"/><rect x="1082" y="411" width="2" height="1" fill="#ffa500"/><rect x="1087" y="411" width="3" height="1" fill="#ffa500"/><rect x="271" y="412" width="1" height="1" fill="#ffa500"/><rect x="296" y="412" width="1" height="1" fill="#ffa500"/><rect x="299" y="412" width="1" height="1" fill="#ffa500"/><rect x="372" y="412" width="1" height="1" fill="#ffa500"/><rect x="388" y="412" width="1" height="1" fill="#ffa500"/><rect x="394" y="412" width="1" height="1" fill="#ffa500"/><rect x="931" y="412" width="1" height="1" fill="#ffa500"/><rect x="934" y="412" width="1" height="1" fill="#ffa500"/><rect x="1026" y="412" width="1" height="1" fill="#ffa500"/><rect x="1039" y="412" width="1" height="1" fill="#ffa500"/><rect x="1047" y="412" width="1" height="1" fill="#ffa500"/><rect x="1081" y="412" width="1" height="1" fill="#ffa500"/><rect x="272" y="413" width="1" height="1" fill="#ffa500"/><rect x="295" y="413" width="1" height="1" fill="#ffa500"/><rect x="300" y="413" width="1" height="1" fill="#ffa500"/><rect x="371" y="413" width="1" height="1" fill="#ffa500"/><rect x="389" y="413" width="2" height="1" fill="#ffa500"/><rect x="393" y="413" width="1" height="1" fill="#ffa500"/><rect x="931" y="413" width="1" height="1" fill="#ffa500"/><rect x="934" y="413" width="1" height="1" fill="#ffa500"/><rect x="1027" y="413" width="1" height="1" fill="#ffa500"/><rect x="1038" y="413" width="1" height="1" fill="#ffa500"/><rect x="1047" y="413" width="1" height="1" fill="#ffa500"/><rect x="1080" y="413" width="1" height="1" fill="#ffa500"/><rect x="273" y="414" width="2" height="1" fill="#ffa500"/><rect x="295" y="414" width="1" height="1" fill="#ffa500"/><rect x="300" y="414" width="1" height="1" fill="#ffa500"/><rect x="371" y="414" width="1" height="1" fill="#ffa500"/><rect x="391" y="414" width="3" height="1" fill="#ffa500"/><rect x="932" y="414" width="1" height="1" fill="#ffa500"/><rect x="934" y="414" width="1" height="1" fill="#ffa500"/><rect x="1028" y="414" width="1" height="1" fill="#ffa500"/><rect x="1038" y="414" width="1" height="1" fill="#ffa500"/><rect x="1047" y="414" width="1" height="1" fill="#ffa500"/><rect x="1080" y="414" width="1" height="1" fill="#ffa500"/><rect x="275" y="415" width="7" height="1" fill="#ffa500"/><rect x="295" y="415" width="1" height="1" fill="#ffa500"/><rect x="301" y="415" width="5" height="1" fill="#ffa500"/><rect x="370" y="415" width="1" height="1" fill="#ffa500"/><rect x="932" y="415" width="1" height="1" fill="#ffa500"/><rect x="934" y="415" width="1" height="1" fill="#ffa500"/><rect x="1028" y="415" width="1" height="1" fill="#ffa500"/><rect x="1037" y="415" width="1" height="1" fill="#ffa500"/><rect x="1047" y="415" width="1" height="1" fill="#ffa500"/><rect x="1079" y="415" width="1" height="1" fill="#ffa500"/><rect x="282" y="416" width="1" height="1" fill="#ffa500"/><rect x="294" y="416" width="1" height="1" fill="#ffa500"/><rect x="306" y="416" width="1" height="1" fill="#ffa500"/><rect x="365" y="416" width="2" height="1" fill="#ffa500"/><rect x="370" y="416" width="1" height="1" fill="#ffa500"/><rect x="932" y="416" width="2" height="1" fill="#ffa500"/><rect x="1029" y="416" width="1" height="1" fill="#ffa500"/><rect x="1037" y="416" width="1" height="1" fill="#ffa500"/><rect x="1048" y="416" width="1" height="1" fill="#ffa500"/><rect x="1079" y="416" width="1" height="1" fill="#ffa500"/><rect x="283" y="417" width="1" height="1" fill="#ffa500"/><rect x="294" y="417" width="1" height="1" fill="#ffa500"/><rect x="307" y="417" width="1" height="1" fill="#ffa500"/><rect x="365" y="417" width="1" height="1" fill="#ffa500"/><rect x="367" y="417" width="3" height="1" fill="#ffa500"/><rect x="933" y="417" width="1" height="1" fill="#ffa500"/><rect x="1030" y="417" width="1" height="1" fill="#ffa500"/><rect x="1036" y="417" width="1" height="1" fill="#ffa500"/><rect x="1048" y="417" width="1" height="1" fill="#ffa500"/><rect x="1065" y="417" width="2" height="1" fill="#ffa500"/><rect x="1078" y="417" width="1" height="1" fill="#ffa500"/><rect x="284" y="418" width="1" height="1" fill="#ffa500"/><rect x="293" y="418" width="1" height="1" fill="#ffa500"/><rect x="307" y="418" width="1" height="1" fill="#ffa500"/><rect x="364" y="418" width="1" height="1" fill="#ffa500"/><rect x="933" y="418" width="1" height="1" fill="#ffa500"/><rect x="1031" y="418" width="1" height="1" fill="#ffa500"/><rect x="1035" y="418" width="1" height="1" fill="#ffa500"/><rect x="1048" y="418" width="1" height="1" fill="#ffa500"/><rect x="1064" y="418" width="1" height="1" fill="#ffa500"/><rect x="1067" y="418" width="3" height="1" fill="#ffa500"/><rect x="1078" y="418" width="1" height="1" fill="#ffa500"/><rect x="285" y="419" width="9" height="1" fill="#ffa500"/><rect x="308" y="419" width="1" height="1" fill="#ffa500"/><rect x="349" y="419" width="1" height="1" fill="#ffa500"/><rect x="364" y="419" width="1" height="1" fill="#ffa500"/><rect x="1031" y="419" width="1" height="1" fill="#ffa500"/><rect x="1035" y="419" width="1" height="1" fill="#ffa500"/><rect x="1048" y="419" width="1" height="1" fill="#ffa500"/><rect x="1064" y="419" width="1" height="1" fill="#ffa500"/><rect x="1070" y="419" width="1" height="1" fill="#ffa500"/><rect x="1076" y="419" width="2" height="1" fill="#ffa500"/><rect x="309" y="420" width="1" height="1" fill="#ffa500"/><rect x="349" y="420" width="2" height="1" fill="#ffa500"/><rect x="364" y="420" width="1" height="1" fill="#ffa500"/><rect x="1032" y="420" width="1" height="1" fill="#ffa500"/><rect x="1034" y="420" width="1" height="1" fill="#ffa500"/><rect x="1049" y="420" width="1" height="1" fill="#ffa500"/><rect x="1063" y="420" width="1" height="1" fill="#ffa500"/><rect x="1071" y="420" width="2" height="1" fill="#ffa500"/><rect x="1074" y="420" width="2" height="1" fill="#ffa500"/><rect x="310" y="421" width="2" height="1" fill="#ffa500"/><rect x="348" y="421" width="1" height="1" fill="#ffa500"/><rect x="351" y="421" width="1" height="1" fill="#ffa500"/><rect x="363" y="421" width="1" height="1" fill="#ffa500"/><rect x="1033" y="421" width="1" height="1" fill="#ffa500"/><rect x="1049" y="421" width="1" height="1" fill="#ffa500"/><rect x="1062" y="421" width="1" height="1" fill="#ffa500"/><rect x="1073" y="421" width="1" height="1" fill="#ffa500"/><rect x="312" y="422" width="2" height="1" fill="#ffa500"/><rect x="348" y="422" width="1" height="1" fill="#ffa500"/><rect x="351" y="422" width="1" height="1" fill="#ffa500"/><rect x="363" y="422" width="1" height="1" fill="#ffa500"/><rect x="1050" y="422" width="1" height="1" fill="#ffa500"/><rect x="1062" y="422" width="1" height="1" fill="#ffa500"/><rect x="314" y="423" width="1" height="1" fill="#ffa500"/><rect x="325" y="423" width="2" height="1" fill="#ffa500"/><rect x="348" y="423" width="1" height="1" fill="#ffa500"/><rect x="352" y="423" width="1" height="1" fill="#ffa500"/><rect x="363" y="423" width="1" height="1" fill="#ffa500"/><rect x="1051" y="423" width="2" height="1" fill="#ffa500"/><rect x="1059" y="423" width="3" height="1" fill="#ffa500"/><rect x="315" y="424" width="1" height="1" fill="#ffa500"/><rect x="323" y="424" width="2" height="1" fill="#ffa500"/><rect x="327" y="424" width="3" height="1" fill="#ffa500"/><rect x="348" y="424" width="1" height="1" fill="#ffa500"/><rect x="353" y="424" width="1" height="1" fill="#ffa500"/><rect x="362" y="424" width="1" height="1" fill="#ffa500"/><rect x="1053" y="424" width="6" height="1" fill="#ffa500"/><rect x="316" y="425" width="1" height="1" fill="#ffa500"/><rect x="322" y="425" width="1" height="1" fill="#ffa500"/><rect x="330" y="425" width="2" height="1" fill="#ffa500"/><rect x="347" y="425" width="1" height="1" fill="#ffa500"/><rect x="354" y="425" width="1" height="1" fill="#ffa500"/><rect x="362" y="425" width="1" height="1" fill="#ffa500"/><rect x="317" y="426" width="5" height="1" fill="#ffa500"/><rect x="332" y="426" width="2" height="1" fill="#ffa500"/><rect x="347" y="426" width="1" height="1" fill="#ffa500"/><rect x="355" y="426" width="1" height="1" fill="#ffa500"/><rect x="362" y="426" width="1" height="1" fill="#ffa500"/><rect x="334" y="427" width="1" height="1" fill="#ffa500"/><rect x="347" y="427" width="1" height="1" fill="#ffa500"/><rect x="355" y="427" width="1" height="1" fill="#ffa500"/><rect x="361" y="427" width="1" height="1" fill="#ffa500"/><rect x="335" y="428" width="2" height="1" fill="#ffa500"/><rect x="347" y="428" width="1" height="1" fill="#ffa500"/><rect x="356" y="428" width="1" height="1" fill="#ffa500"/><rect x="359" y="428" width="3" height="1" fill="#ffa500"/><rect x="337" y="429" width="1" height="1" fill="#ffa500"/><rect x="346" y="429" width="1" height="1" fill="#ffa500"/><rect x="357" y="429" width="2" height="1" fill="#ffa500"/><rect x="338" y="430" width="2" height="1" fill="#ffa500"/><rect x="346" y="430" width="1" height="1" fill="#ffa500"/><rect x="340" y="431" width="2" height="1" fill="#ffa500"/><rect x="346" y="431" width="1" height="1" fill="#ffa500"/><rect x="342" y="432" width="1" height="1" fill="#ffa500"/><rect x="346" y="432" width="1" height="1" fill="#ffa500"/><rect x="343" y="433" width="3" height="1" fill="#ffa500"/><rect x="345" y="434" width="1" height="1" fill="#ffa500"/><circle cx="13" cy="375.2" r="2.3" fill="#687c94" shape-rendering="auto"/><circle cx="25" cy="371.9" r="2.3" fill="#687c94" shape-rendering="auto"/><circle cx="133" cy="376.0" r="2.3" fill="#687c94" shape-rendering="auto"/><circle cx="477" cy="394.2" r="2.3" fill="#687c94" shape-rendering="auto"/><circle cx="505" cy="392.6" r="2.3" fill="#687c94" shape-rendering="auto"/><circle cx="537" cy="389.4" r="2.3" fill="#687c94" shape-rendering="auto"/><circle cx="1021" cy="407.2" r="2.3" fill="#687c94" shape-rendering="auto"/><circle cx="1137" cy="401.6" r="2.3" fill="#687c94" shape-rendering="auto"/><circle cx="461" cy="386.1" r="2.3" fill="#c0c0c0" shape-rendering="auto"/><circle cx="841" cy="387.8" r="2.3" fill="#c0c0c0" shape-rendering="auto"/><rect x="1164" y="29" width="2" height="1" fill="#000"/><text x="1169" y="32" fill="#000" color="#000">1.57415</text><rect x="1164" y="62" width="2" height="1" fill="#000"/><text x="1169" y="65" fill="#000" color="#000">1.56830</text><rect x="1164" y="95" width="2" height="1" fill="#000"/><text x="1169" y="98" fill="#000" color="#000">1.56260</text><rect x="1164" y="128" width="2" height="1" fill="#000"/><text x="1169" y="131" fill="#000" color="#000">1.55690</text><rect x="1164" y="194" width="2" height="1" fill="#000"/><text x="1169" y="197" fill="#000" color="#000">1.54535</text><rect x="1165" y="155" width="38" height="11" fill="#000"/><text x="1169" y="164" fill="#fff" color="#fff">1.55117</text><rect x="1164" y="201" width="2" height="1" fill="#000"/><text x="1166.6" y="210" fill="#000" color="#000">37.9764</text><rect x="1164" y="263" width="2" height="1" fill="#000"/><text x="1166.6" y="266" fill="#000" color="#000">0.00</text><rect x="1164" y="329" width="2" height="1" fill="#000"/><text x="1166.6" y="327" fill="#000" color="#000">-40.225</text><rect x="1164" y="334" width="2" height="1" fill="#000"/><text x="1166.6" y="343" fill="#000" color="#000">37.9764</text><rect x="1164" y="384" width="2" height="1" fill="#000"/><text x="1166.6" y="387" fill="#000" color="#000">0.00</text><rect x="1164" y="438" width="2" height="1" fill="#000"/><text x="1166.6" y="436" fill="#000" color="#000">-40.225</text><rect x="5" y="440" width="1" height="3" fill="#000"/><text x="4" y="452" fill="#000" color="#000">17 Jul 2012</text><rect x="69" y="440" width="1" height="3" fill="#000"/><text x="68" y="452" fill="#000" color="#000">18 Jul 13:00</text><rect x="133" y="440" width="1" height="3" fill="#000"/><text x="132" y="452" fill="#000" color="#000">19 Jul 05:00</text><rect x="197" y="440" width="1" height="3" fill="#000"/><text x="196" y="452" fill="#000" color="#000">19 Jul 21:00</text><rect x="261" y="440" width="1" height="3" fill="#000"/><text x="260" y="452" fill="#000" color="#000">20 Jul 13:00</text><rect x="325" y="440" width="1" height="3" fill="#000"/><text x="324" y="452" fill="#000" color="#000">23 Jul 06:00</text><rect x="389" y="440" width="1" height="3" fill="#000"/><text x="388" y="452" fill="#000" color="#000">23 Jul 22:00</text><rect x="453" y="440" width="1" height="3" fill="#000"/><text x="452" y="452" fill="#000" color="#000">24 Jul 14:00</text><rect x="517" y="440" width="1" height="3" fill="#000"/><text x="516" y="452" fill="#000" color="#000">25 Jul 06:00</text><rect x="581" y="440" width="1" height="3" fill="#000"/><text x="580" y="452" fill="#000" color="#000">25 Jul 22:00</text><rect x="645" y="440" width="1" height="3" fill="#000"/><text x="644" y="452" fill="#000" color="#000">26 Jul 14:00</text><rect x="709" y="440" width="1" height="3" fill="#000"/><text x="708" y="452" fill="#000" color="#000">27 Jul 06:00</text><rect x="773" y="440" width="1" height="3" fill="#000"/><text x="772" y="452" fill="#000" color="#000">27 Jul 22:00</text><rect x="837" y="440" width="1" height="3" fill="#000"/><text x="836" y="452" fill="#000" color="#000">30 Jul 15:00</text><rect x="901" y="440" width="1" height="3" fill="#000"/><text x="900" y="452" fill="#000" color="#000">31 Jul 07:00</text><rect x="965" y="440" width="1" height="3" fill="#000"/><text x="964" y="452" fill="#000" color="#000">31 Jul 23:00</text><rect x="1029" y="440" width="1" height="3" fill="#000"/><text x="1028" y="452" fill="#000" color="#000">1 Aug 15:00</text><rect x="1093" y="440" width="1" height="3" fill="#000"/><text x="1092" y="452" fill="#000" color="#000">2 Aug 07:00</text><text x="8.8" y="16" fill="#000" color="#000">GBPUSD,H1</text><text x="69.5" y="16" fill="#000" color="#000">1.55095</text><text x="105" y="16" fill="#000" color="#000">1.55156</text><text x="141" y="16" fill="#000" color="#000">1.55087</text><text x="176.6" y="16" fill="#000" color="#000">1.55117</text><text x="9" y="213" fill="#000" color="#000" letter-spacing="0.3">DPTRSI</text><text x="9" y="346" fill="#000" color="#000" letter-spacing="0.3">DPTRSI</text><text x="47" y="346" fill="#000" color="#000">-9.8014</text></svg></body></html>
